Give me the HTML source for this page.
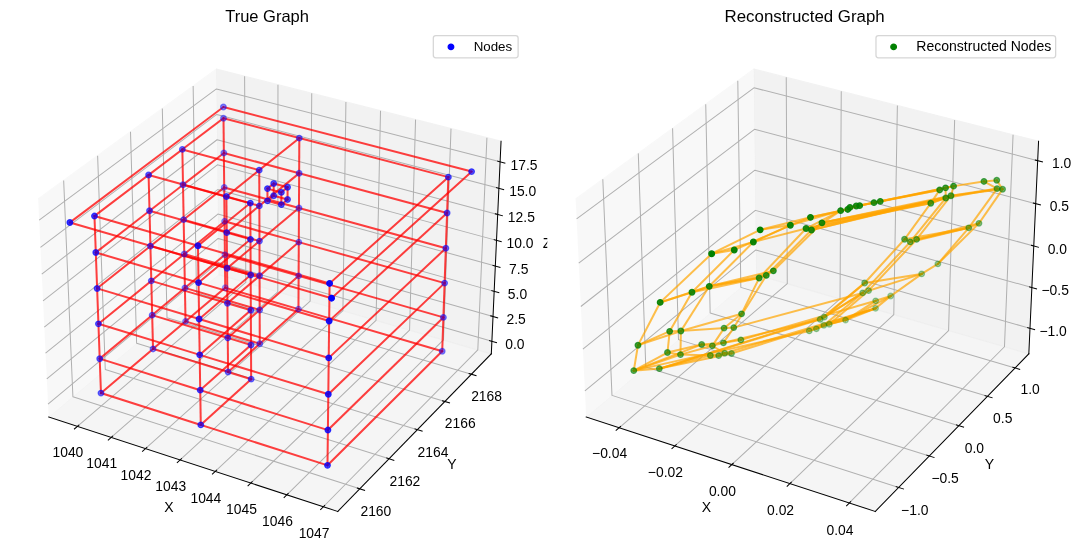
<!DOCTYPE html>
<html><head><meta charset="utf-8"><title>Graph</title>
<style>html,body{margin:0;padding:0;background:#fff;overflow:hidden}body{width:1080px;height:553px;font-family:"Liberation Sans",sans-serif}svg{display:block;will-change:transform;opacity:.9999}svg text{font-family:"Liberation Sans",sans-serif;fill:#000}</style></head>
<body>
<svg width="1080" height="553" viewBox="-0.5556 -0.9112 857.1402 438.8876" preserveAspectRatio="none">
 
 <defs>
  <style type="text/css">*{stroke-linejoin: round; stroke-linecap: butt}</style>
 </defs>
 <g id="figure_1">
  <g id="patch_1">
   <path d="M -0 437.976307 
L 857.140245 437.976307 
L 857.140245 0 
L -0 0 
z
" style="fill: #ffffff"/>
  </g>
  <g id="patch_2">
   <path d="M 7.2 430.776307 
L 415.658182 430.776307 
L 415.658182 22.318125 
L 7.2 22.318125 
z
" style="fill: #ffffff"/>
  </g>
  <g id="pane3d_1">
   <g id="patch_3">
    <path d="M 38.04141 330.063609 
L 172.927641 216.999295 
L 171.052593 53.940343 
L 29.71136 157.084737 
" style="fill: #f2f2f2; opacity: 0.5; stroke: #f2f2f2; stroke-linejoin: miter"/>
   </g>
  </g>
  <g id="pane3d_2">
   <g id="patch_4">
    <path d="M 172.927641 216.999295 
L 389.371914 279.911101 
L 397.096047 111.23577 
L 171.052593 53.940343 
" style="fill: #e6e6e6; opacity: 0.5; stroke: #e6e6e6; stroke-linejoin: miter"/>
   </g>
  </g>
  <g id="pane3d_3">
   <g id="patch_5">
    <path d="M 38.04141 330.063609 
L 267.482911 404.999203 
L 389.371914 279.911101 
L 172.927641 216.999295 
" style="fill: #ececec; opacity: 0.5; stroke: #ececec; stroke-linejoin: miter"/>
   </g>
  </g>
  <g id="grid3d_1">
   <g id="Line3DCollection_1">
    <path d="M 60.852418 337.513685 
L 194.532181 223.278882 
L 193.572442 59.648468 
" style="fill: none; stroke: #b0b0b0; stroke-width: 0.8"/>
    <path d="M 87.687652 346.278072 
L 219.923796 230.659222 
L 220.051934 66.360248 
" style="fill: none; stroke: #b0b0b0; stroke-width: 0.8"/>
    <path d="M 114.863145 355.153588 
L 245.610621 238.125368 
L 246.852626 73.153442 
" style="fill: none; stroke: #b0b0b0; stroke-width: 0.8"/>
    <path d="M 142.385409 364.142359 
L 271.597836 245.678826 
L 273.980398 80.029541 
" style="fill: none; stroke: #b0b0b0; stroke-width: 0.8"/>
    <path d="M 170.261126 373.246568 
L 297.89074 253.321135 
L 301.441273 86.990073 
" style="fill: none; stroke: #b0b0b0; stroke-width: 0.8"/>
    <path d="M 198.497147 382.468453 
L 324.49476 261.053873 
L 329.241425 94.036601 
" style="fill: none; stroke: #b0b0b0; stroke-width: 0.8"/>
    <path d="M 227.100504 391.810309 
L 351.41545 268.878655 
L 357.38718 101.170729 
" style="fill: none; stroke: #b0b0b0; stroke-width: 0.8"/>
    <path d="M 256.078412 401.274494 
L 378.658497 276.797133 
L 385.885025 108.394102 
" style="fill: none; stroke: #b0b0b0; stroke-width: 0.8"/>
   </g>
  </g>
  <g id="grid3d_2">
   <g id="Line3DCollection_2">
    <path d="M 49.967774 142.302529 
L 57.309921 313.912361 
L 284.960764 387.062626 
" style="fill: none; stroke: #b0b0b0; stroke-width: 0.8"/>
    <path d="M 76.926636 122.629179 
L 82.986512 292.389733 
L 308.216893 363.196117 
" style="fill: none; stroke: #b0b0b0; stroke-width: 0.8"/>
    <path d="M 103.012941 103.592582 
L 107.867457 271.534032 
L 330.71509 340.107433 
" style="fill: none; stroke: #b0b0b0; stroke-width: 0.8"/>
    <path d="M 128.268375 85.162317 
L 131.989173 251.314731 
L 352.491812 317.759158 
" style="fill: none; stroke: #b0b0b0; stroke-width: 0.8"/>
    <path d="M 152.732013 67.309868 
L 155.385889 231.70314 
L 373.581217 296.116241 
" style="fill: none; stroke: #b0b0b0; stroke-width: 0.8"/>
   </g>
  </g>
  <g id="grid3d_3">
   <g id="Line3DCollection_3">
    <path d="M 389.826908 269.975202 
L 172.816971 207.375132 
L 37.551502 319.890364 
" style="fill: none; stroke: #b0b0b0; stroke-width: 0.8"/>
    <path d="M 390.729617 250.262334 
L 172.597482 188.287838 
L 36.579236 299.700623 
" style="fill: none; stroke: #b0b0b0; stroke-width: 0.8"/>
    <path d="M 391.641804 230.342518 
L 172.375799 169.009735 
L 35.596373 279.290847 
" style="fill: none; stroke: #b0b0b0; stroke-width: 0.8"/>
    <path d="M 392.563617 210.212478 
L 172.151889 149.537947 
L 34.602741 258.657421 
" style="fill: none; stroke: #b0b0b0; stroke-width: 0.8"/>
    <path d="M 393.49521 189.868868 
L 171.925718 129.86954 
L 33.59816 237.796647 
" style="fill: none; stroke: #b0b0b0; stroke-width: 0.8"/>
    <path d="M 394.436739 169.308271 
L 171.697252 110.001521 
L 32.582449 216.704747 
" style="fill: none; stroke: #b0b0b0; stroke-width: 0.8"/>
    <path d="M 395.388365 148.527198 
L 171.466455 89.930837 
L 31.555421 195.377859 
" style="fill: none; stroke: #b0b0b0; stroke-width: 0.8"/>
    <path d="M 396.35025 127.522083 
L 171.233292 69.654369 
L 30.516888 173.812034 
" style="fill: none; stroke: #b0b0b0; stroke-width: 0.8"/>
   </g>
  </g>
  <g id="axis3d_1">
   <g id="line2d_1">
    <path d="M 38.04141 330.063609 
L 267.482911 404.999203 
" style="fill: none; stroke: #000000; stroke-width: 0.8; stroke-linecap: square"/>
   </g>
   <g id="xtick_1">
    <g id="line2d_2">
     <path d="M 62.016692 336.518765 
L 58.518863 339.507802 
" style="fill: none; stroke: #000000; stroke-width: 0.8; stroke-linecap: square"/>
    </g>
    <g id="text_1">
     <text x="53.339" y="361.795" font-size="11.00" text-anchor="middle">1040</text>
    </g>
   </g>
   <g id="xtick_2">
    <g id="line2d_3">
     <path d="M 88.839943 345.270582 
L 85.378082 348.297412 
" style="fill: none; stroke: #000000; stroke-width: 0.8; stroke-linecap: square"/>
    </g>
    <g id="text_2">
     <text x="80.192" y="370.680" font-size="11.00" text-anchor="middle">1041</text>
    </g>
   </g>
   <g id="xtick_3">
    <g id="line2d_4">
     <path d="M 116.003056 354.133287 
L 112.578359 357.198632 
" style="fill: none; stroke: #000000; stroke-width: 0.8; stroke-linecap: square"/>
    </g>
    <g id="text_3">
     <text x="107.387" y="379.678" font-size="11.00" text-anchor="middle">1042</text>
    </g>
   </g>
   <g id="xtick_4">
    <g id="line2d_5">
     <path d="M 143.512529 363.109002 
L 140.126231 366.213602 
" style="fill: none; stroke: #000000; stroke-width: 0.8; stroke-linecap: square"/>
    </g>
    <g id="text_4">
     <text x="134.929" y="388.791" font-size="11.00" text-anchor="middle">1043</text>
    </g>
   </g>
   <g id="xtick_5">
    <g id="line2d_6">
     <path d="M 171.375031 372.199903 
L 168.028403 375.344516 
" style="fill: none; stroke: #000000; stroke-width: 0.8; stroke-linecap: square"/>
    </g>
    <g id="text_5">
     <text x="162.826" y="398.022" font-size="11.00" text-anchor="middle">1044</text>
    </g>
   </g>
   <g id="xtick_6">
    <g id="line2d_7">
     <path d="M 199.597401 381.40822 
L 196.291756 384.593625 
" style="fill: none; stroke: #000000; stroke-width: 0.8; stroke-linecap: square"/>
    </g>
    <g id="text_6">
     <text x="191.085" y="407.372" font-size="11.00" text-anchor="middle">1045</text>
    </g>
   </g>
   <g id="xtick_7">
    <g id="line2d_8">
     <path d="M 228.186656 390.736244 
L 224.923348 393.963239 
" style="fill: none; stroke: #000000; stroke-width: 0.8; stroke-linecap: square"/>
    </g>
    <g id="text_7">
     <text x="219.712" y="416.844" font-size="11.00" text-anchor="middle">1046</text>
    </g>
   </g>
   <g id="xtick_8">
    <g id="line2d_9">
     <path d="M 257.149997 400.186323 
L 253.930423 403.455729 
" style="fill: none; stroke: #000000; stroke-width: 0.8; stroke-linecap: square"/>
    </g>
    <g id="text_8">
     <text x="248.715" y="426.440" font-size="11.00" text-anchor="middle">1047</text>
    </g>
   </g>
   <g id="text_9">
    <text x="133.493" y="405.426" font-size="11.15" text-anchor="middle">X</text>
   </g>
  </g>
  <g id="axis3d_2">
   <g id="line2d_10">
    <path d="M 389.371914 279.911101 
L 267.482911 404.999203 
" style="fill: none; stroke: #000000; stroke-width: 0.8; stroke-linecap: square"/>
   </g>
   <g id="xtick_9">
    <g id="line2d_11">
     <path d="M 283.042965 386.446387 
L 288.801289 388.296689 
" style="fill: none; stroke: #000000; stroke-width: 0.8; stroke-linecap: square"/>
    </g>
    <g id="text_10">
     <text x="297.760" y="408.944" font-size="11.00" text-anchor="middle">2160</text>
    </g>
   </g>
   <g id="xtick_10">
    <g id="line2d_12">
     <path d="M 306.321068 362.60012 
L 312.013335 364.389616 
" style="fill: none; stroke: #000000; stroke-width: 0.8; stroke-linecap: square"/>
    </g>
    <g id="text_11">
     <text x="320.813" y="384.848" font-size="11.00" text-anchor="middle">2162</text>
    </g>
   </g>
   <g id="xtick_11">
    <g id="line2d_13">
     <path d="M 328.840835 339.530698 
L 334.468258 341.262336 
" style="fill: none; stroke: #000000; stroke-width: 0.8; stroke-linecap: square"/>
    </g>
    <g id="text_12">
     <text x="343.114" y="361.537" font-size="11.00" text-anchor="middle">2164</text>
    </g>
   </g>
   <g id="xtick_12">
    <g id="line2d_14">
     <path d="M 350.638731 317.200766 
L 356.202507 318.877308 
" style="fill: none; stroke: #000000; stroke-width: 0.8; stroke-linecap: square"/>
    </g>
    <g id="text_13">
     <text x="364.700" y="338.974" font-size="11.00" text-anchor="middle">2166</text>
    </g>
   </g>
   <g id="xtick_13">
    <g id="line2d_15">
     <path d="M 371.748916 295.57533 
L 377.250229 297.199364 
" style="fill: none; stroke: #000000; stroke-width: 0.8; stroke-linecap: square"/>
    </g>
    <g id="text_14">
     <text x="385.604" y="317.123" font-size="11.00" text-anchor="middle">2168</text>
    </g>
   </g>
   <g id="text_15">
    <text x="358.115" y="371.365" font-size="11.15" text-anchor="middle">Y</text>
   </g>
  </g>
  <g id="axis3d_3">
   <g id="line2d_16">
    <path d="M 389.371914 279.911101 
L 397.096047 111.23577 
" style="fill: none; stroke: #000000; stroke-width: 0.8; stroke-linecap: square"/>
   </g>
   <g id="xtick_14">
    <g id="line2d_17">
     <path d="M 388.005372 269.44975 
L 393.474324 271.027358 
" style="fill: none; stroke: #000000; stroke-width: 0.8; stroke-linecap: square"/>
    </g>
    <g id="text_16">
     <text x="408.142" y="275.931" font-size="11.00" text-anchor="middle">0.0</text>
    </g>
   </g>
   <g id="xtick_15">
    <g id="line2d_18">
     <path d="M 388.898214 249.742005 
L 394.396815 251.304238 
" style="fill: none; stroke: #000000; stroke-width: 0.8; stroke-linecap: square"/>
    </g>
    <g id="text_17">
     <text x="409.138" y="256.243" font-size="11.00" text-anchor="middle">2.5</text>
    </g>
   </g>
   <g id="xtick_16">
    <g id="line2d_19">
     <path d="M 389.800425 229.82745 
L 395.328999 231.373895 
" style="fill: none; stroke: #000000; stroke-width: 0.8; stroke-linecap: square"/>
    </g>
    <g id="text_18">
     <text x="410.145" y="236.350" font-size="11.00" text-anchor="middle">5.0</text>
    </g>
   </g>
   <g id="xtick_17">
    <g id="line2d_20">
     <path d="M 390.712153 209.70281 
L 396.271028 211.233047 
" style="fill: none; stroke: #000000; stroke-width: 0.8; stroke-linecap: square"/>
    </g>
    <g id="text_19">
     <text x="411.162" y="216.246" font-size="11.00" text-anchor="middle">7.5</text>
    </g>
   </g>
   <g id="xtick_18">
    <g id="line2d_21">
     <path d="M 391.633551 189.364745 
L 397.22306 190.878341 
" style="fill: none; stroke: #000000; stroke-width: 0.8; stroke-linecap: square"/>
    </g>
    <g id="text_20">
     <text x="412.191" y="195.930" font-size="11.00" text-anchor="middle">10.0</text>
    </g>
   </g>
   <g id="xtick_19">
    <g id="line2d_22">
     <path d="M 392.564773 168.809841 
L 398.185255 170.306354 
" style="fill: none; stroke: #000000; stroke-width: 0.8; stroke-linecap: square"/>
    </g>
    <g id="text_21">
     <text x="413.230" y="175.398" font-size="11.00" text-anchor="middle">12.5</text>
    </g>
   </g>
   <g id="xtick_20">
    <g id="line2d_23">
     <path d="M 393.505976 148.034611 
L 399.157776 149.513586 
" style="fill: none; stroke: #000000; stroke-width: 0.8; stroke-linecap: square"/>
    </g>
    <g id="text_22">
     <text x="414.280" y="154.645" font-size="11.00" text-anchor="middle">15.0</text>
    </g>
   </g>
   <g id="xtick_21">
    <g id="line2d_24">
     <path d="M 394.457322 127.035494 
L 400.140791 128.496465 
" style="fill: none; stroke: #000000; stroke-width: 0.8; stroke-linecap: square"/>
    </g>
    <g id="text_23">
     <text x="415.342" y="133.670" font-size="11.00" text-anchor="middle">17.5</text>
    </g>
   </g>
   <g id="text_24">
    <text x="433.619" y="195.711" font-size="11.15" text-anchor="middle">Z</text>
   </g>
  </g>
  <g id="axes_1">
   <g id="line2d_25">
    <path d="M 79.583066 311.057111 
L 158.791552 336.323541 
" clip-path="url(#pc23e75e563)" style="fill: none; stroke: #ff0000; stroke-opacity: 0.75; stroke-width: 1.6; stroke-linecap: square"/>
   </g>
   <g id="line2d_26">
    <path d="M 158.791552 336.323541 
L 259.356796 368.402486 
" clip-path="url(#pc23e75e563)" style="fill: none; stroke: #ff0000; stroke-opacity: 0.75; stroke-width: 1.6; stroke-linecap: square"/>
   </g>
   <g id="line2d_27">
    <path d="M 259.356796 368.402486 
L 350.399946 277.831718 
" clip-path="url(#pc23e75e563)" style="fill: none; stroke: #ff0000; stroke-opacity: 0.75; stroke-width: 1.6; stroke-linecap: square"/>
   </g>
   <g id="line2d_28">
    <path d="M 350.399946 277.831718 
L 236.310104 244.438368 
" clip-path="url(#pc23e75e563)" style="fill: none; stroke: #ff0000; stroke-opacity: 0.75; stroke-width: 1.6; stroke-linecap: square"/>
   </g>
   <g id="line2d_29">
    <path d="M 236.310104 244.438368 
L 178.195973 227.428743 
" clip-path="url(#pc23e75e563)" style="fill: none; stroke: #ff0000; stroke-opacity: 0.75; stroke-width: 1.6; stroke-linecap: square"/>
   </g>
   <g id="line2d_30">
    <path d="M 178.195973 227.428743 
L 146.695836 254.142336 
" clip-path="url(#pc23e75e563)" style="fill: none; stroke: #ff0000; stroke-opacity: 0.75; stroke-width: 1.6; stroke-linecap: square"/>
   </g>
   <g id="line2d_31">
    <path d="M 146.695836 254.142336 
L 120.903281 276.015632 
" clip-path="url(#pc23e75e563)" style="fill: none; stroke: #ff0000; stroke-opacity: 0.75; stroke-width: 1.6; stroke-linecap: square"/>
   </g>
   <g id="line2d_32">
    <path d="M 120.903281 276.015632 
L 79.583066 311.057111 
" clip-path="url(#pc23e75e563)" style="fill: none; stroke: #ff0000; stroke-opacity: 0.75; stroke-width: 1.6; stroke-linecap: square"/>
   </g>
   <g id="line2d_33">
    <path d="M 120.903281 276.015632 
L 180.461863 294.349143 
" clip-path="url(#pc23e75e563)" style="fill: none; stroke: #ff0000; stroke-opacity: 0.75; stroke-width: 1.6; stroke-linecap: square"/>
   </g>
   <g id="line2d_34">
    <path d="M 180.461863 294.349143 
L 198.786323 299.989836 
" clip-path="url(#pc23e75e563)" style="fill: none; stroke: #ff0000; stroke-opacity: 0.75; stroke-width: 1.6; stroke-linecap: square"/>
   </g>
   <g id="line2d_35">
    <path d="M 146.695836 254.142336 
L 205.611104 271.873626 
" clip-path="url(#pc23e75e563)" style="fill: none; stroke: #ff0000; stroke-opacity: 0.75; stroke-width: 1.6; stroke-linecap: square"/>
   </g>
   <g id="line2d_36">
    <path d="M 180.461863 294.349143 
L 205.611104 271.873626 
" clip-path="url(#pc23e75e563)" style="fill: none; stroke: #ff0000; stroke-opacity: 0.75; stroke-width: 1.6; stroke-linecap: square"/>
   </g>
   <g id="line2d_37">
    <path d="M 205.611104 271.873626 
L 236.310104 244.438368 
" clip-path="url(#pc23e75e563)" style="fill: none; stroke: #ff0000; stroke-opacity: 0.75; stroke-width: 1.6; stroke-linecap: square"/>
   </g>
   <g id="line2d_38">
    <path d="M 198.786323 299.989836 
L 158.791552 336.323541 
" clip-path="url(#pc23e75e563)" style="fill: none; stroke: #ff0000; stroke-opacity: 0.75; stroke-width: 1.6; stroke-linecap: square"/>
   </g>
   <g id="line2d_39">
    <path d="M 78.579657 283.780552 
L 158.35881 308.726242 
" clip-path="url(#pc23e75e563)" style="fill: none; stroke: #ff0000; stroke-opacity: 0.75; stroke-width: 1.6; stroke-linecap: square"/>
   </g>
   <g id="line2d_40">
    <path d="M 158.35881 308.726242 
L 259.679688 340.407692 
" clip-path="url(#pc23e75e563)" style="fill: none; stroke: #ff0000; stroke-opacity: 0.75; stroke-width: 1.6; stroke-linecap: square"/>
   </g>
   <g id="line2d_41">
    <path d="M 259.679688 340.407692 
L 351.350859 250.9872 
" clip-path="url(#pc23e75e563)" style="fill: none; stroke: #ff0000; stroke-opacity: 0.75; stroke-width: 1.6; stroke-linecap: square"/>
   </g>
   <g id="line2d_42">
    <path d="M 351.350859 250.9872 
L 236.44458 218.039824 
" clip-path="url(#pc23e75e563)" style="fill: none; stroke: #ff0000; stroke-opacity: 0.75; stroke-width: 1.6; stroke-linecap: square"/>
   </g>
   <g id="line2d_43">
    <path d="M 236.44458 218.039824 
L 177.930362 201.26189 
" clip-path="url(#pc23e75e563)" style="fill: none; stroke: #ff0000; stroke-opacity: 0.75; stroke-width: 1.6; stroke-linecap: square"/>
   </g>
   <g id="line2d_44">
    <path d="M 177.930362 201.26189 
L 146.204213 227.61298 
" clip-path="url(#pc23e75e563)" style="fill: none; stroke: #ff0000; stroke-opacity: 0.75; stroke-width: 1.6; stroke-linecap: square"/>
   </g>
   <g id="line2d_45">
    <path d="M 146.204213 227.61298 
L 120.219844 249.195065 
" clip-path="url(#pc23e75e563)" style="fill: none; stroke: #ff0000; stroke-opacity: 0.75; stroke-width: 1.6; stroke-linecap: square"/>
   </g>
   <g id="line2d_46">
    <path d="M 120.219844 249.195065 
L 78.579657 283.780552 
" clip-path="url(#pc23e75e563)" style="fill: none; stroke: #ff0000; stroke-opacity: 0.75; stroke-width: 1.6; stroke-linecap: square"/>
   </g>
   <g id="line2d_47">
    <path d="M 120.219844 249.195065 
L 180.198625 267.288385 
" clip-path="url(#pc23e75e563)" style="fill: none; stroke: #ff0000; stroke-opacity: 0.75; stroke-width: 1.6; stroke-linecap: square"/>
   </g>
   <g id="line2d_48">
    <path d="M 180.198625 267.288385 
L 198.654736 272.855893 
" clip-path="url(#pc23e75e563)" style="fill: none; stroke: #ff0000; stroke-opacity: 0.75; stroke-width: 1.6; stroke-linecap: square"/>
   </g>
   <g id="line2d_49">
    <path d="M 146.204213 227.61298 
L 205.530681 245.107816 
" clip-path="url(#pc23e75e563)" style="fill: none; stroke: #ff0000; stroke-opacity: 0.75; stroke-width: 1.6; stroke-linecap: square"/>
   </g>
   <g id="line2d_50">
    <path d="M 180.198625 267.288385 
L 205.530681 245.107816 
" clip-path="url(#pc23e75e563)" style="fill: none; stroke: #ff0000; stroke-opacity: 0.75; stroke-width: 1.6; stroke-linecap: square"/>
   </g>
   <g id="line2d_51">
    <path d="M 205.530681 245.107816 
L 236.44458 218.039824 
" clip-path="url(#pc23e75e563)" style="fill: none; stroke: #ff0000; stroke-opacity: 0.75; stroke-width: 1.6; stroke-linecap: square"/>
   </g>
   <g id="line2d_52">
    <path d="M 198.654736 272.855893 
L 158.35881 308.726242 
" clip-path="url(#pc23e75e563)" style="fill: none; stroke: #ff0000; stroke-opacity: 0.75; stroke-width: 1.6; stroke-linecap: square"/>
   </g>
   <g id="line2d_53">
    <path d="M 77.561481 256.10257 
L 157.919579 280.715168 
" clip-path="url(#pc23e75e563)" style="fill: none; stroke: #ff0000; stroke-opacity: 0.75; stroke-width: 1.6; stroke-linecap: square"/>
   </g>
   <g id="line2d_54">
    <path d="M 157.919579 280.715168 
L 260.007534 311.983327 
" clip-path="url(#pc23e75e563)" style="fill: none; stroke: #ff0000; stroke-opacity: 0.75; stroke-width: 1.6; stroke-linecap: square"/>
   </g>
   <g id="line2d_55">
    <path d="M 260.007534 311.983327 
L 352.315421 223.757373 
" clip-path="url(#pc23e75e563)" style="fill: none; stroke: #ff0000; stroke-opacity: 0.75; stroke-width: 1.6; stroke-linecap: square"/>
   </g>
   <g id="line2d_56">
    <path d="M 352.315421 223.757373 
L 236.580937 191.272006 
" clip-path="url(#pc23e75e563)" style="fill: none; stroke: #ff0000; stroke-opacity: 0.75; stroke-width: 1.6; stroke-linecap: square"/>
   </g>
   <g id="line2d_57">
    <path d="M 236.580937 191.272006 
L 177.661085 174.733867 
" clip-path="url(#pc23e75e563)" style="fill: none; stroke: #ff0000; stroke-opacity: 0.75; stroke-width: 1.6; stroke-linecap: square"/>
   </g>
   <g id="line2d_58">
    <path d="M 177.661085 174.733867 
L 145.705661 200.709708 
" clip-path="url(#pc23e75e563)" style="fill: none; stroke: #ff0000; stroke-opacity: 0.75; stroke-width: 1.6; stroke-linecap: square"/>
   </g>
   <g id="line2d_59">
    <path d="M 145.705661 200.709708 
L 119.52661 221.990066 
" clip-path="url(#pc23e75e563)" style="fill: none; stroke: #ff0000; stroke-opacity: 0.75; stroke-width: 1.6; stroke-linecap: square"/>
   </g>
   <g id="line2d_60">
    <path d="M 119.52661 221.990066 
L 77.561481 256.10257 
" clip-path="url(#pc23e75e563)" style="fill: none; stroke: #ff0000; stroke-opacity: 0.75; stroke-width: 1.6; stroke-linecap: square"/>
   </g>
   <g id="line2d_61">
    <path d="M 119.52661 221.990066 
L 179.931561 239.834327 
" clip-path="url(#pc23e75e563)" style="fill: none; stroke: #ff0000; stroke-opacity: 0.75; stroke-width: 1.6; stroke-linecap: square"/>
   </g>
   <g id="line2d_62">
    <path d="M 179.931561 239.834327 
L 198.521228 245.325911 
" clip-path="url(#pc23e75e563)" style="fill: none; stroke: #ff0000; stroke-opacity: 0.75; stroke-width: 1.6; stroke-linecap: square"/>
   </g>
   <g id="line2d_63">
    <path d="M 145.705661 200.709708 
L 205.449109 217.95957 
" clip-path="url(#pc23e75e563)" style="fill: none; stroke: #ff0000; stroke-opacity: 0.75; stroke-width: 1.6; stroke-linecap: square"/>
   </g>
   <g id="line2d_64">
    <path d="M 179.931561 239.834327 
L 205.449109 217.95957 
" clip-path="url(#pc23e75e563)" style="fill: none; stroke: #ff0000; stroke-opacity: 0.75; stroke-width: 1.6; stroke-linecap: square"/>
   </g>
   <g id="line2d_65">
    <path d="M 205.449109 217.95957 
L 236.580937 191.272006 
" clip-path="url(#pc23e75e563)" style="fill: none; stroke: #ff0000; stroke-opacity: 0.75; stroke-width: 1.6; stroke-linecap: square"/>
   </g>
   <g id="line2d_66">
    <path d="M 198.521228 245.325911 
L 157.919579 280.715168 
" clip-path="url(#pc23e75e563)" style="fill: none; stroke: #ff0000; stroke-opacity: 0.75; stroke-width: 1.6; stroke-linecap: square"/>
   </g>
   <g id="line2d_67">
    <path d="M 76.528209 228.014236 
L 157.473714 252.280941 
" clip-path="url(#pc23e75e563)" style="fill: none; stroke: #ff0000; stroke-opacity: 0.75; stroke-width: 1.6; stroke-linecap: square"/>
   </g>
   <g id="line2d_68">
    <path d="M 157.473714 252.280941 
L 260.340449 283.119427 
" clip-path="url(#pc23e75e563)" style="fill: none; stroke: #ff0000; stroke-opacity: 0.75; stroke-width: 1.6; stroke-linecap: square"/>
   </g>
   <g id="line2d_69">
    <path d="M 260.340449 283.119427 
L 353.293928 196.13388 
" clip-path="url(#pc23e75e563)" style="fill: none; stroke: #ff0000; stroke-opacity: 0.75; stroke-width: 1.6; stroke-linecap: square"/>
   </g>
   <g id="line2d_70">
    <path d="M 353.293928 196.13388 
L 236.719215 164.127113 
" clip-path="url(#pc23e75e563)" style="fill: none; stroke: #ff0000; stroke-opacity: 0.75; stroke-width: 1.6; stroke-linecap: square"/>
   </g>
   <g id="line2d_71">
    <path d="M 236.719215 164.127113 
L 177.388066 147.837145 
" clip-path="url(#pc23e75e563)" style="fill: none; stroke: #ff0000; stroke-opacity: 0.75; stroke-width: 1.6; stroke-linecap: square"/>
   </g>
   <g id="line2d_72">
    <path d="M 177.388066 147.837145 
L 145.200033 173.424558 
" clip-path="url(#pc23e75e563)" style="fill: none; stroke: #ff0000; stroke-opacity: 0.75; stroke-width: 1.6; stroke-linecap: square"/>
   </g>
   <g id="line2d_73">
    <path d="M 145.200033 173.424558 
L 118.823369 194.392308 
" clip-path="url(#pc23e75e563)" style="fill: none; stroke: #ff0000; stroke-opacity: 0.75; stroke-width: 1.6; stroke-linecap: square"/>
   </g>
   <g id="line2d_74">
    <path d="M 118.823369 194.392308 
L 76.528209 228.014236 
" clip-path="url(#pc23e75e563)" style="fill: none; stroke: #ff0000; stroke-opacity: 0.75; stroke-width: 1.6; stroke-linecap: square"/>
   </g>
   <g id="line2d_75">
    <path d="M 118.823369 194.392308 
L 179.660588 211.978329 
" clip-path="url(#pc23e75e563)" style="fill: none; stroke: #ff0000; stroke-opacity: 0.75; stroke-width: 1.6; stroke-linecap: square"/>
   </g>
   <g id="line2d_76">
    <path d="M 179.660588 211.978329 
L 198.385758 217.391155 
" clip-path="url(#pc23e75e563)" style="fill: none; stroke: #ff0000; stroke-opacity: 0.75; stroke-width: 1.6; stroke-linecap: square"/>
   </g>
   <g id="line2d_77">
    <path d="M 145.200033 173.424558 
L 205.366362 190.420632 
" clip-path="url(#pc23e75e563)" style="fill: none; stroke: #ff0000; stroke-opacity: 0.75; stroke-width: 1.6; stroke-linecap: square"/>
   </g>
   <g id="line2d_78">
    <path d="M 179.660588 211.978329 
L 205.366362 190.420632 
" clip-path="url(#pc23e75e563)" style="fill: none; stroke: #ff0000; stroke-opacity: 0.75; stroke-width: 1.6; stroke-linecap: square"/>
   </g>
   <g id="line2d_79">
    <path d="M 205.366362 190.420632 
L 236.719215 164.127113 
" clip-path="url(#pc23e75e563)" style="fill: none; stroke: #ff0000; stroke-opacity: 0.75; stroke-width: 1.6; stroke-linecap: square"/>
   </g>
   <g id="line2d_80">
    <path d="M 198.385758 217.391155 
L 157.473714 252.280941 
" clip-path="url(#pc23e75e563)" style="fill: none; stroke: #ff0000; stroke-opacity: 0.75; stroke-width: 1.6; stroke-linecap: square"/>
   </g>
   <g id="line2d_81">
    <path d="M 75.479504 199.506357 
L 157.021062 223.413901 
" clip-path="url(#pc23e75e563)" style="fill: none; stroke: #ff0000; stroke-opacity: 0.75; stroke-width: 1.6; stroke-linecap: square"/>
   </g>
   <g id="line2d_82">
    <path d="M 157.021062 223.413901 
L 260.678553 253.805717 
" clip-path="url(#pc23e75e563)" style="fill: none; stroke: #ff0000; stroke-opacity: 0.75; stroke-width: 1.6; stroke-linecap: square"/>
   </g>
   <g id="line2d_83">
    <path d="M 260.678553 253.805717 
L 354.286684 168.108123 
" clip-path="url(#pc23e75e563)" style="fill: none; stroke: #ff0000; stroke-opacity: 0.75; stroke-width: 1.6; stroke-linecap: square"/>
   </g>
   <g id="line2d_84">
    <path d="M 354.286684 168.108123 
L 236.859455 136.59712 
" clip-path="url(#pc23e75e563)" style="fill: none; stroke: #ff0000; stroke-opacity: 0.75; stroke-width: 1.6; stroke-linecap: square"/>
   </g>
   <g id="line2d_85">
    <path d="M 236.859455 136.59712 
L 177.111225 120.563984 
" clip-path="url(#pc23e75e563)" style="fill: none; stroke: #ff0000; stroke-opacity: 0.75; stroke-width: 1.6; stroke-linecap: square"/>
   </g>
   <g id="line2d_86">
    <path d="M 177.111225 120.563984 
L 144.687176 145.749343 
" clip-path="url(#pc23e75e563)" style="fill: none; stroke: #ff0000; stroke-opacity: 0.75; stroke-width: 1.6; stroke-linecap: square"/>
   </g>
   <g id="line2d_87">
    <path d="M 144.687176 145.749343 
L 118.109901 166.393224 
" clip-path="url(#pc23e75e563)" style="fill: none; stroke: #ff0000; stroke-opacity: 0.75; stroke-width: 1.6; stroke-linecap: square"/>
   </g>
   <g id="line2d_88">
    <path d="M 118.109901 166.393224 
L 75.479504 199.506357 
" clip-path="url(#pc23e75e563)" style="fill: none; stroke: #ff0000; stroke-opacity: 0.75; stroke-width: 1.6; stroke-linecap: square"/>
   </g>
   <g id="line2d_89">
    <path d="M 118.109901 166.393224 
L 179.385617 183.711501 
" clip-path="url(#pc23e75e563)" style="fill: none; stroke: #ff0000; stroke-opacity: 0.75; stroke-width: 1.6; stroke-linecap: square"/>
   </g>
   <g id="line2d_90">
    <path d="M 179.385617 183.711501 
L 198.248281 189.042631 
" clip-path="url(#pc23e75e563)" style="fill: none; stroke: #ff0000; stroke-opacity: 0.75; stroke-width: 1.6; stroke-linecap: square"/>
   </g>
   <g id="line2d_91">
    <path d="M 144.687176 145.749343 
L 205.282417 162.482508 
" clip-path="url(#pc23e75e563)" style="fill: none; stroke: #ff0000; stroke-opacity: 0.75; stroke-width: 1.6; stroke-linecap: square"/>
   </g>
   <g id="line2d_92">
    <path d="M 179.385617 183.711501 
L 205.282417 162.482508 
" clip-path="url(#pc23e75e563)" style="fill: none; stroke: #ff0000; stroke-opacity: 0.75; stroke-width: 1.6; stroke-linecap: square"/>
   </g>
   <g id="line2d_93">
    <path d="M 205.282417 162.482508 
L 236.859455 136.59712 
" clip-path="url(#pc23e75e563)" style="fill: none; stroke: #ff0000; stroke-opacity: 0.75; stroke-width: 1.6; stroke-linecap: square"/>
   </g>
   <g id="line2d_94">
    <path d="M 198.248281 189.042631 
L 157.021062 223.413901 
" clip-path="url(#pc23e75e563)" style="fill: none; stroke: #ff0000; stroke-opacity: 0.75; stroke-width: 1.6; stroke-linecap: square"/>
   </g>
   <g id="line2d_95">
    <path d="M 74.415017 170.569462 
L 156.561466 194.104089 
" clip-path="url(#pc23e75e563)" style="fill: none; stroke: #ff0000; stroke-opacity: 0.75; stroke-width: 1.6; stroke-linecap: square"/>
   </g>
   <g id="line2d_96">
    <path d="M 156.561466 194.104089 
L 261.021967 224.031601 
" clip-path="url(#pc23e75e563)" style="fill: none; stroke: #ff0000; stroke-opacity: 0.75; stroke-width: 1.6; stroke-linecap: square"/>
   </g>
   <g id="line2d_97">
    <path d="M 261.021967 224.031601 
L 355.294003 139.67125 
" clip-path="url(#pc23e75e563)" style="fill: none; stroke: #ff0000; stroke-opacity: 0.75; stroke-width: 1.6; stroke-linecap: square"/>
   </g>
   <g id="line2d_98">
    <path d="M 355.294003 139.67125 
L 237.001699 108.673773 
" clip-path="url(#pc23e75e563)" style="fill: none; stroke: #ff0000; stroke-opacity: 0.75; stroke-width: 1.6; stroke-linecap: square"/>
   </g>
   <g id="line2d_99">
    <path d="M 237.001699 108.673773 
L 176.830483 92.906425 
" clip-path="url(#pc23e75e563)" style="fill: none; stroke: #ff0000; stroke-opacity: 0.75; stroke-width: 1.6; stroke-linecap: square"/>
   </g>
   <g id="line2d_100">
    <path d="M 176.830483 92.906425 
L 144.166934 117.675637 
" clip-path="url(#pc23e75e563)" style="fill: none; stroke: #ff0000; stroke-opacity: 0.75; stroke-width: 1.6; stroke-linecap: square"/>
   </g>
   <g id="line2d_101">
    <path d="M 144.166934 117.675637 
L 117.385982 137.983997 
" clip-path="url(#pc23e75e563)" style="fill: none; stroke: #ff0000; stroke-opacity: 0.75; stroke-width: 1.6; stroke-linecap: square"/>
   </g>
   <g id="line2d_102">
    <path d="M 117.385982 137.983997 
L 74.415017 170.569462 
" clip-path="url(#pc23e75e563)" style="fill: none; stroke: #ff0000; stroke-opacity: 0.75; stroke-width: 1.6; stroke-linecap: square"/>
   </g>
   <g id="line2d_103">
    <path d="M 117.385982 137.983997 
L 179.106562 155.024686 
" clip-path="url(#pc23e75e563)" style="fill: none; stroke: #ff0000; stroke-opacity: 0.75; stroke-width: 1.6; stroke-linecap: square"/>
   </g>
   <g id="line2d_104">
    <path d="M 179.106562 155.024686 
L 198.108752 160.271079 
" clip-path="url(#pc23e75e563)" style="fill: none; stroke: #ff0000; stroke-opacity: 0.75; stroke-width: 1.6; stroke-linecap: square"/>
   </g>
   <g id="line2d_105">
    <path d="M 144.166934 117.675637 
L 205.197245 134.136455 
" clip-path="url(#pc23e75e563)" style="fill: none; stroke: #ff0000; stroke-opacity: 0.75; stroke-width: 1.6; stroke-linecap: square"/>
   </g>
   <g id="line2d_106">
    <path d="M 179.106562 155.024686 
L 205.197245 134.136455 
" clip-path="url(#pc23e75e563)" style="fill: none; stroke: #ff0000; stroke-opacity: 0.75; stroke-width: 1.6; stroke-linecap: square"/>
   </g>
   <g id="line2d_107">
    <path d="M 205.197245 134.136455 
L 237.001699 108.673773 
" clip-path="url(#pc23e75e563)" style="fill: none; stroke: #ff0000; stroke-opacity: 0.75; stroke-width: 1.6; stroke-linecap: square"/>
   </g>
   <g id="line2d_108">
    <path d="M 198.108752 160.271079 
L 156.561466 194.104089 
" clip-path="url(#pc23e75e563)" style="fill: none; stroke: #ff0000; stroke-opacity: 0.75; stroke-width: 1.6; stroke-linecap: square"/>
   </g>
   <g id="line2d_109">
    <path d="M 79.583066 311.057111 
L 78.579657 283.780552 
" clip-path="url(#pc23e75e563)" style="fill: none; stroke: #ff0000; stroke-opacity: 0.75; stroke-width: 1.6; stroke-linecap: square"/>
   </g>
   <g id="line2d_110">
    <path d="M 78.579657 283.780552 
L 77.561481 256.10257 
" clip-path="url(#pc23e75e563)" style="fill: none; stroke: #ff0000; stroke-opacity: 0.75; stroke-width: 1.6; stroke-linecap: square"/>
   </g>
   <g id="line2d_111">
    <path d="M 77.561481 256.10257 
L 76.528209 228.014236 
" clip-path="url(#pc23e75e563)" style="fill: none; stroke: #ff0000; stroke-opacity: 0.75; stroke-width: 1.6; stroke-linecap: square"/>
   </g>
   <g id="line2d_112">
    <path d="M 76.528209 228.014236 
L 75.479504 199.506357 
" clip-path="url(#pc23e75e563)" style="fill: none; stroke: #ff0000; stroke-opacity: 0.75; stroke-width: 1.6; stroke-linecap: square"/>
   </g>
   <g id="line2d_113">
    <path d="M 75.479504 199.506357 
L 74.415017 170.569462 
" clip-path="url(#pc23e75e563)" style="fill: none; stroke: #ff0000; stroke-opacity: 0.75; stroke-width: 1.6; stroke-linecap: square"/>
   </g>
   <g id="line2d_114">
    <path d="M 158.791552 336.323541 
L 158.35881 308.726242 
" clip-path="url(#pc23e75e563)" style="fill: none; stroke: #ff0000; stroke-opacity: 0.75; stroke-width: 1.6; stroke-linecap: square"/>
   </g>
   <g id="line2d_115">
    <path d="M 158.35881 308.726242 
L 157.919579 280.715168 
" clip-path="url(#pc23e75e563)" style="fill: none; stroke: #ff0000; stroke-opacity: 0.75; stroke-width: 1.6; stroke-linecap: square"/>
   </g>
   <g id="line2d_116">
    <path d="M 157.919579 280.715168 
L 157.473714 252.280941 
" clip-path="url(#pc23e75e563)" style="fill: none; stroke: #ff0000; stroke-opacity: 0.75; stroke-width: 1.6; stroke-linecap: square"/>
   </g>
   <g id="line2d_117">
    <path d="M 157.473714 252.280941 
L 157.021062 223.413901 
" clip-path="url(#pc23e75e563)" style="fill: none; stroke: #ff0000; stroke-opacity: 0.75; stroke-width: 1.6; stroke-linecap: square"/>
   </g>
   <g id="line2d_118">
    <path d="M 157.021062 223.413901 
L 156.561466 194.104089 
" clip-path="url(#pc23e75e563)" style="fill: none; stroke: #ff0000; stroke-opacity: 0.75; stroke-width: 1.6; stroke-linecap: square"/>
   </g>
   <g id="line2d_119">
    <path d="M 259.356796 368.402486 
L 259.679688 340.407692 
" clip-path="url(#pc23e75e563)" style="fill: none; stroke: #ff0000; stroke-opacity: 0.75; stroke-width: 1.6; stroke-linecap: square"/>
   </g>
   <g id="line2d_120">
    <path d="M 259.679688 340.407692 
L 260.007534 311.983327 
" clip-path="url(#pc23e75e563)" style="fill: none; stroke: #ff0000; stroke-opacity: 0.75; stroke-width: 1.6; stroke-linecap: square"/>
   </g>
   <g id="line2d_121">
    <path d="M 260.007534 311.983327 
L 260.340449 283.119427 
" clip-path="url(#pc23e75e563)" style="fill: none; stroke: #ff0000; stroke-opacity: 0.75; stroke-width: 1.6; stroke-linecap: square"/>
   </g>
   <g id="line2d_122">
    <path d="M 260.340449 283.119427 
L 260.678553 253.805717 
" clip-path="url(#pc23e75e563)" style="fill: none; stroke: #ff0000; stroke-opacity: 0.75; stroke-width: 1.6; stroke-linecap: square"/>
   </g>
   <g id="line2d_123">
    <path d="M 260.678553 253.805717 
L 261.021967 224.031601 
" clip-path="url(#pc23e75e563)" style="fill: none; stroke: #ff0000; stroke-opacity: 0.75; stroke-width: 1.6; stroke-linecap: square"/>
   </g>
   <g id="line2d_124">
    <path d="M 350.399946 277.831718 
L 351.350859 250.9872 
" clip-path="url(#pc23e75e563)" style="fill: none; stroke: #ff0000; stroke-opacity: 0.75; stroke-width: 1.6; stroke-linecap: square"/>
   </g>
   <g id="line2d_125">
    <path d="M 351.350859 250.9872 
L 352.315421 223.757373 
" clip-path="url(#pc23e75e563)" style="fill: none; stroke: #ff0000; stroke-opacity: 0.75; stroke-width: 1.6; stroke-linecap: square"/>
   </g>
   <g id="line2d_126">
    <path d="M 352.315421 223.757373 
L 353.293928 196.13388 
" clip-path="url(#pc23e75e563)" style="fill: none; stroke: #ff0000; stroke-opacity: 0.75; stroke-width: 1.6; stroke-linecap: square"/>
   </g>
   <g id="line2d_127">
    <path d="M 353.293928 196.13388 
L 354.286684 168.108123 
" clip-path="url(#pc23e75e563)" style="fill: none; stroke: #ff0000; stroke-opacity: 0.75; stroke-width: 1.6; stroke-linecap: square"/>
   </g>
   <g id="line2d_128">
    <path d="M 354.286684 168.108123 
L 355.294003 139.67125 
" clip-path="url(#pc23e75e563)" style="fill: none; stroke: #ff0000; stroke-opacity: 0.75; stroke-width: 1.6; stroke-linecap: square"/>
   </g>
   <g id="line2d_129">
    <path d="M 180.461863 294.349143 
L 180.198625 267.288385 
" clip-path="url(#pc23e75e563)" style="fill: none; stroke: #ff0000; stroke-opacity: 0.75; stroke-width: 1.6; stroke-linecap: square"/>
   </g>
   <g id="line2d_130">
    <path d="M 180.198625 267.288385 
L 179.931561 239.834327 
" clip-path="url(#pc23e75e563)" style="fill: none; stroke: #ff0000; stroke-opacity: 0.75; stroke-width: 1.6; stroke-linecap: square"/>
   </g>
   <g id="line2d_131">
    <path d="M 179.931561 239.834327 
L 179.660588 211.978329 
" clip-path="url(#pc23e75e563)" style="fill: none; stroke: #ff0000; stroke-opacity: 0.75; stroke-width: 1.6; stroke-linecap: square"/>
   </g>
   <g id="line2d_132">
    <path d="M 179.660588 211.978329 
L 179.385617 183.711501 
" clip-path="url(#pc23e75e563)" style="fill: none; stroke: #ff0000; stroke-opacity: 0.75; stroke-width: 1.6; stroke-linecap: square"/>
   </g>
   <g id="line2d_133">
    <path d="M 179.385617 183.711501 
L 179.106562 155.024686 
" clip-path="url(#pc23e75e563)" style="fill: none; stroke: #ff0000; stroke-opacity: 0.75; stroke-width: 1.6; stroke-linecap: square"/>
   </g>
   <g id="line2d_134">
    <path d="M 198.786323 299.989836 
L 198.654736 272.855893 
" clip-path="url(#pc23e75e563)" style="fill: none; stroke: #ff0000; stroke-opacity: 0.75; stroke-width: 1.6; stroke-linecap: square"/>
   </g>
   <g id="line2d_135">
    <path d="M 198.654736 272.855893 
L 198.521228 245.325911 
" clip-path="url(#pc23e75e563)" style="fill: none; stroke: #ff0000; stroke-opacity: 0.75; stroke-width: 1.6; stroke-linecap: square"/>
   </g>
   <g id="line2d_136">
    <path d="M 198.521228 245.325911 
L 198.385758 217.391155 
" clip-path="url(#pc23e75e563)" style="fill: none; stroke: #ff0000; stroke-opacity: 0.75; stroke-width: 1.6; stroke-linecap: square"/>
   </g>
   <g id="line2d_137">
    <path d="M 198.385758 217.391155 
L 198.248281 189.042631 
" clip-path="url(#pc23e75e563)" style="fill: none; stroke: #ff0000; stroke-opacity: 0.75; stroke-width: 1.6; stroke-linecap: square"/>
   </g>
   <g id="line2d_138">
    <path d="M 198.248281 189.042631 
L 198.108752 160.271079 
" clip-path="url(#pc23e75e563)" style="fill: none; stroke: #ff0000; stroke-opacity: 0.75; stroke-width: 1.6; stroke-linecap: square"/>
   </g>
   <g id="line2d_139">
    <path d="M 205.611104 271.873626 
L 205.530681 245.107816 
" clip-path="url(#pc23e75e563)" style="fill: none; stroke: #ff0000; stroke-opacity: 0.75; stroke-width: 1.6; stroke-linecap: square"/>
   </g>
   <g id="line2d_140">
    <path d="M 205.530681 245.107816 
L 205.449109 217.95957 
" clip-path="url(#pc23e75e563)" style="fill: none; stroke: #ff0000; stroke-opacity: 0.75; stroke-width: 1.6; stroke-linecap: square"/>
   </g>
   <g id="line2d_141">
    <path d="M 205.449109 217.95957 
L 205.366362 190.420632 
" clip-path="url(#pc23e75e563)" style="fill: none; stroke: #ff0000; stroke-opacity: 0.75; stroke-width: 1.6; stroke-linecap: square"/>
   </g>
   <g id="line2d_142">
    <path d="M 205.366362 190.420632 
L 205.282417 162.482508 
" clip-path="url(#pc23e75e563)" style="fill: none; stroke: #ff0000; stroke-opacity: 0.75; stroke-width: 1.6; stroke-linecap: square"/>
   </g>
   <g id="line2d_143">
    <path d="M 205.282417 162.482508 
L 205.197245 134.136455 
" clip-path="url(#pc23e75e563)" style="fill: none; stroke: #ff0000; stroke-opacity: 0.75; stroke-width: 1.6; stroke-linecap: square"/>
   </g>
   <g id="line2d_144">
    <path d="M 236.310104 244.438368 
L 236.44458 218.039824 
" clip-path="url(#pc23e75e563)" style="fill: none; stroke: #ff0000; stroke-opacity: 0.75; stroke-width: 1.6; stroke-linecap: square"/>
   </g>
   <g id="line2d_145">
    <path d="M 236.44458 218.039824 
L 236.580937 191.272006 
" clip-path="url(#pc23e75e563)" style="fill: none; stroke: #ff0000; stroke-opacity: 0.75; stroke-width: 1.6; stroke-linecap: square"/>
   </g>
   <g id="line2d_146">
    <path d="M 236.580937 191.272006 
L 236.719215 164.127113 
" clip-path="url(#pc23e75e563)" style="fill: none; stroke: #ff0000; stroke-opacity: 0.75; stroke-width: 1.6; stroke-linecap: square"/>
   </g>
   <g id="line2d_147">
    <path d="M 236.719215 164.127113 
L 236.859455 136.59712 
" clip-path="url(#pc23e75e563)" style="fill: none; stroke: #ff0000; stroke-opacity: 0.75; stroke-width: 1.6; stroke-linecap: square"/>
   </g>
   <g id="line2d_148">
    <path d="M 236.859455 136.59712 
L 237.001699 108.673773 
" clip-path="url(#pc23e75e563)" style="fill: none; stroke: #ff0000; stroke-opacity: 0.75; stroke-width: 1.6; stroke-linecap: square"/>
   </g>
   <g id="line2d_149">
    <path d="M 146.695836 254.142336 
L 146.204213 227.61298 
" clip-path="url(#pc23e75e563)" style="fill: none; stroke: #ff0000; stroke-opacity: 0.75; stroke-width: 1.6; stroke-linecap: square"/>
   </g>
   <g id="line2d_150">
    <path d="M 146.204213 227.61298 
L 145.705661 200.709708 
" clip-path="url(#pc23e75e563)" style="fill: none; stroke: #ff0000; stroke-opacity: 0.75; stroke-width: 1.6; stroke-linecap: square"/>
   </g>
   <g id="line2d_151">
    <path d="M 145.705661 200.709708 
L 145.200033 173.424558 
" clip-path="url(#pc23e75e563)" style="fill: none; stroke: #ff0000; stroke-opacity: 0.75; stroke-width: 1.6; stroke-linecap: square"/>
   </g>
   <g id="line2d_152">
    <path d="M 145.200033 173.424558 
L 144.687176 145.749343 
" clip-path="url(#pc23e75e563)" style="fill: none; stroke: #ff0000; stroke-opacity: 0.75; stroke-width: 1.6; stroke-linecap: square"/>
   </g>
   <g id="line2d_153">
    <path d="M 144.687176 145.749343 
L 144.166934 117.675637 
" clip-path="url(#pc23e75e563)" style="fill: none; stroke: #ff0000; stroke-opacity: 0.75; stroke-width: 1.6; stroke-linecap: square"/>
   </g>
   <g id="line2d_154">
    <path d="M 120.903281 276.015632 
L 120.219844 249.195065 
" clip-path="url(#pc23e75e563)" style="fill: none; stroke: #ff0000; stroke-opacity: 0.75; stroke-width: 1.6; stroke-linecap: square"/>
   </g>
   <g id="line2d_155">
    <path d="M 120.219844 249.195065 
L 119.52661 221.990066 
" clip-path="url(#pc23e75e563)" style="fill: none; stroke: #ff0000; stroke-opacity: 0.75; stroke-width: 1.6; stroke-linecap: square"/>
   </g>
   <g id="line2d_156">
    <path d="M 119.52661 221.990066 
L 118.823369 194.392308 
" clip-path="url(#pc23e75e563)" style="fill: none; stroke: #ff0000; stroke-opacity: 0.75; stroke-width: 1.6; stroke-linecap: square"/>
   </g>
   <g id="line2d_157">
    <path d="M 118.823369 194.392308 
L 118.109901 166.393224 
" clip-path="url(#pc23e75e563)" style="fill: none; stroke: #ff0000; stroke-opacity: 0.75; stroke-width: 1.6; stroke-linecap: square"/>
   </g>
   <g id="line2d_158">
    <path d="M 118.109901 166.393224 
L 117.385982 137.983997 
" clip-path="url(#pc23e75e563)" style="fill: none; stroke: #ff0000; stroke-opacity: 0.75; stroke-width: 1.6; stroke-linecap: square"/>
   </g>
   <g id="line2d_159">
    <path d="M 178.195973 227.428743 
L 177.930362 201.26189 
" clip-path="url(#pc23e75e563)" style="fill: none; stroke: #ff0000; stroke-opacity: 0.75; stroke-width: 1.6; stroke-linecap: square"/>
   </g>
   <g id="line2d_160">
    <path d="M 177.930362 201.26189 
L 177.661085 174.733867 
" clip-path="url(#pc23e75e563)" style="fill: none; stroke: #ff0000; stroke-opacity: 0.75; stroke-width: 1.6; stroke-linecap: square"/>
   </g>
   <g id="line2d_161">
    <path d="M 177.661085 174.733867 
L 177.388066 147.837145 
" clip-path="url(#pc23e75e563)" style="fill: none; stroke: #ff0000; stroke-opacity: 0.75; stroke-width: 1.6; stroke-linecap: square"/>
   </g>
   <g id="line2d_162">
    <path d="M 177.388066 147.837145 
L 177.111225 120.563984 
" clip-path="url(#pc23e75e563)" style="fill: none; stroke: #ff0000; stroke-opacity: 0.75; stroke-width: 1.6; stroke-linecap: square"/>
   </g>
   <g id="line2d_163">
    <path d="M 177.111225 120.563984 
L 176.830483 92.906425 
" clip-path="url(#pc23e75e563)" style="fill: none; stroke: #ff0000; stroke-opacity: 0.75; stroke-width: 1.6; stroke-linecap: square"/>
   </g>
   <g id="line2d_164">
    <path d="M 176.740495 84.041267 
L 54.898889 175.715591 
" clip-path="url(#pc23e75e563)" style="fill: none; stroke: #ff0000; stroke-opacity: 0.75; stroke-width: 1.6; stroke-linecap: square"/>
   </g>
   <g id="line2d_165">
    <path d="M 54.898889 175.715591 
L 262.592199 235.743155 
" clip-path="url(#pc23e75e563)" style="fill: none; stroke: #ff0000; stroke-opacity: 0.75; stroke-width: 1.6; stroke-linecap: square"/>
   </g>
   <g id="line2d_166">
    <path d="M 262.592199 235.743155 
L 373.734816 135.263866 
" clip-path="url(#pc23e75e563)" style="fill: none; stroke: #ff0000; stroke-opacity: 0.75; stroke-width: 1.6; stroke-linecap: square"/>
   </g>
   <g id="line2d_167">
    <path d="M 373.734816 135.263866 
L 176.740495 84.041267 
" clip-path="url(#pc23e75e563)" style="fill: none; stroke: #ff0000; stroke-opacity: 0.75; stroke-width: 1.6; stroke-linecap: square"/>
   </g>
   <g id="line2d_168">
    <path d="M 211.716942 158.495143 
L 222.736959 161.52388 
" clip-path="url(#pc23e75e563)" style="fill: none; stroke: #ff0000; stroke-opacity: 0.75; stroke-width: 1.6; stroke-linecap: square"/>
   </g>
   <g id="line2d_169">
    <path d="M 211.716942 158.495143 
L 216.664429 154.435111 
" clip-path="url(#pc23e75e563)" style="fill: none; stroke: #ff0000; stroke-opacity: 0.75; stroke-width: 1.6; stroke-linecap: square"/>
   </g>
   <g id="line2d_170">
    <path d="M 211.716942 158.495143 
L 211.703857 148.774266 
" clip-path="url(#pc23e75e563)" style="fill: none; stroke: #ff0000; stroke-opacity: 0.75; stroke-width: 1.6; stroke-linecap: square"/>
   </g>
   <g id="line2d_171">
    <path d="M 222.736959 161.52388 
L 227.659765 157.443569 
" clip-path="url(#pc23e75e563)" style="fill: none; stroke: #ff0000; stroke-opacity: 0.75; stroke-width: 1.6; stroke-linecap: square"/>
   </g>
   <g id="line2d_172">
    <path d="M 222.736959 161.52388 
L 222.751472 151.786248 
" clip-path="url(#pc23e75e563)" style="fill: none; stroke: #ff0000; stroke-opacity: 0.75; stroke-width: 1.6; stroke-linecap: square"/>
   </g>
   <g id="line2d_173">
    <path d="M 216.664429 154.435111 
L 227.659765 157.443569 
" clip-path="url(#pc23e75e563)" style="fill: none; stroke: #ff0000; stroke-opacity: 0.75; stroke-width: 1.6; stroke-linecap: square"/>
   </g>
   <g id="line2d_174">
    <path d="M 216.664429 154.435111 
L 216.66372 144.736754 
" clip-path="url(#pc23e75e563)" style="fill: none; stroke: #ff0000; stroke-opacity: 0.75; stroke-width: 1.6; stroke-linecap: square"/>
   </g>
   <g id="line2d_175">
    <path d="M 227.659765 157.443569 
L 227.68653 147.728518 
" clip-path="url(#pc23e75e563)" style="fill: none; stroke: #ff0000; stroke-opacity: 0.75; stroke-width: 1.6; stroke-linecap: square"/>
   </g>
   <g id="line2d_176">
    <path d="M 211.703857 148.774266 
L 222.751472 151.786248 
" clip-path="url(#pc23e75e563)" style="fill: none; stroke: #ff0000; stroke-opacity: 0.75; stroke-width: 1.6; stroke-linecap: square"/>
   </g>
   <g id="line2d_177">
    <path d="M 211.703857 148.774266 
L 216.66372 144.736754 
" clip-path="url(#pc23e75e563)" style="fill: none; stroke: #ff0000; stroke-opacity: 0.75; stroke-width: 1.6; stroke-linecap: square"/>
   </g>
   <g id="line2d_178">
    <path d="M 222.751472 151.786248 
L 227.68653 147.728518 
" clip-path="url(#pc23e75e563)" style="fill: none; stroke: #ff0000; stroke-opacity: 0.75; stroke-width: 1.6; stroke-linecap: square"/>
   </g>
   <g id="line2d_179">
    <path d="M 216.66372 144.736754 
L 227.68653 147.728518 
" clip-path="url(#pc23e75e563)" style="fill: none; stroke: #ff0000; stroke-opacity: 0.75; stroke-width: 1.6; stroke-linecap: square"/>
   </g>
   <g id="Path3DCollection_1">
    <defs>
     <path id="C0_0_d612678be2" d="M 0 2.236068 
C 0.593012 2.236068 1.161816 2.000462 1.581139 1.581139 
C 2.000462 1.161816 2.236068 0.593012 2.236068 -0 
C 2.236068 -0.593012 2.000462 -1.161816 1.581139 -1.581139 
C 1.161816 -2.000462 0.593012 -2.236068 0 -2.236068 
C -0.593012 -2.236068 -1.161816 -2.000462 -1.581139 -1.581139 
C -2.000462 -1.161816 -2.236068 -0.593012 -2.236068 0 
C -2.236068 0.593012 -2.000462 1.161816 -1.581139 1.581139 
C -1.161816 2.000462 -0.593012 2.236068 0 2.236068 
z
"/>
    </defs>
    <g clip-path="url(#pc23e75e563)">
     <use href="#C0_0_d612678be2" x="178.195973" y="227.428743" style="fill: #0000ff; fill-opacity: 0.3; stroke: #0000ff; stroke-opacity: 0.3"/>
    </g>
    <g clip-path="url(#pc23e75e563)">
     <use href="#C0_0_d612678be2" x="177.930362" y="201.26189" style="fill: #0000ff; fill-opacity: 0.327275; stroke: #0000ff; stroke-opacity: 0.327275"/>
    </g>
    <g clip-path="url(#pc23e75e563)">
     <use href="#C0_0_d612678be2" x="236.310104" y="244.438368" style="fill: #0000ff; fill-opacity: 0.352836; stroke: #0000ff; stroke-opacity: 0.352836"/>
    </g>
    <g clip-path="url(#pc23e75e563)">
     <use href="#C0_0_d612678be2" x="177.661085" y="174.733867" style="fill: #0000ff; fill-opacity: 0.354927; stroke: #0000ff; stroke-opacity: 0.354927"/>
    </g>
    <g clip-path="url(#pc23e75e563)">
     <use href="#C0_0_d612678be2" x="236.44458" y="218.039824" style="fill: #0000ff; fill-opacity: 0.380843; stroke: #0000ff; stroke-opacity: 0.380843"/>
    </g>
    <g clip-path="url(#pc23e75e563)">
     <use href="#C0_0_d612678be2" x="177.388066" y="147.837145" style="fill: #0000ff; fill-opacity: 0.382963; stroke: #0000ff; stroke-opacity: 0.382963"/>
    </g>
    <g clip-path="url(#pc23e75e563)">
     <use href="#C0_0_d612678be2" x="146.695836" y="254.142336" style="fill: #0000ff; fill-opacity: 0.382979; stroke: #0000ff; stroke-opacity: 0.382979"/>
    </g>
    <g clip-path="url(#pc23e75e563)">
     <use href="#C0_0_d612678be2" x="236.580937" y="191.272006" style="fill: #0000ff; fill-opacity: 0.409241; stroke: #0000ff; stroke-opacity: 0.409241"/>
    </g>
    <g clip-path="url(#pc23e75e563)">
     <use href="#C0_0_d612678be2" x="177.111225" y="120.563984" style="fill: #0000ff; fill-opacity: 0.411391; stroke: #0000ff; stroke-opacity: 0.411391"/>
    </g>
    <g clip-path="url(#pc23e75e563)">
     <use href="#C0_0_d612678be2" x="146.204213" y="227.61298" style="fill: #0000ff; fill-opacity: 0.411407; stroke: #0000ff; stroke-opacity: 0.411407"/>
    </g>
    <g clip-path="url(#pc23e75e563)">
     <use href="#C0_0_d612678be2" x="236.719215" y="164.127113" style="fill: #0000ff; fill-opacity: 0.43804; stroke: #0000ff; stroke-opacity: 0.43804"/>
    </g>
    <g clip-path="url(#pc23e75e563)">
     <use href="#C0_0_d612678be2" x="205.611104" y="271.873626" style="fill: #0000ff; fill-opacity: 0.438057; stroke: #0000ff; stroke-opacity: 0.438057"/>
    </g>
    <g clip-path="url(#pc23e75e563)">
     <use href="#C0_0_d612678be2" x="176.830483" y="92.906425" style="fill: #0000ff; fill-opacity: 0.44022; stroke: #0000ff; stroke-opacity: 0.44022"/>
    </g>
    <g clip-path="url(#pc23e75e563)">
     <use href="#C0_0_d612678be2" x="145.705661" y="200.709708" style="fill: #0000ff; fill-opacity: 0.440237; stroke: #0000ff; stroke-opacity: 0.440237"/>
    </g>
    <g clip-path="url(#pc23e75e563)">
     <use href="#C0_0_d612678be2" x="176.740495" y="84.041267" style="fill: #0000ff; fill-opacity: 0.449461; stroke: #0000ff; stroke-opacity: 0.449461"/>
    </g>
    <g clip-path="url(#pc23e75e563)">
     <use href="#C0_0_d612678be2" x="120.903281" y="276.015632" style="fill: #0000ff; fill-opacity: 0.450923; stroke: #0000ff; stroke-opacity: 0.450923"/>
    </g>
    <g clip-path="url(#pc23e75e563)">
     <use href="#C0_0_d612678be2" x="350.399946" y="277.831718" style="fill: #0000ff; fill-opacity: 0.456564; stroke: #0000ff; stroke-opacity: 0.456564"/>
    </g>
    <g clip-path="url(#pc23e75e563)">
     <use href="#C0_0_d612678be2" x="236.859455" y="136.59712" style="fill: #0000ff; fill-opacity: 0.467247; stroke: #0000ff; stroke-opacity: 0.467247"/>
    </g>
    <g clip-path="url(#pc23e75e563)">
     <use href="#C0_0_d612678be2" x="205.530681" y="245.107816" style="fill: #0000ff; fill-opacity: 0.467264; stroke: #0000ff; stroke-opacity: 0.467264"/>
    </g>
    <g clip-path="url(#pc23e75e563)">
     <use href="#C0_0_d612678be2" x="145.200033" y="173.424558" style="fill: #0000ff; fill-opacity: 0.469475; stroke: #0000ff; stroke-opacity: 0.469475"/>
    </g>
    <g clip-path="url(#pc23e75e563)">
     <use href="#C0_0_d612678be2" x="120.219844" y="249.195065" style="fill: #0000ff; fill-opacity: 0.480314; stroke: #0000ff; stroke-opacity: 0.480314"/>
    </g>
    <g clip-path="url(#pc23e75e563)">
     <use href="#C0_0_d612678be2" x="351.350859" y="250.9872" style="fill: #0000ff; fill-opacity: 0.486035; stroke: #0000ff; stroke-opacity: 0.486035"/>
    </g>
    <g clip-path="url(#pc23e75e563)">
     <use href="#C0_0_d612678be2" x="237.001699" y="108.673773" style="fill: #0000ff; fill-opacity: 0.496872; stroke: #0000ff; stroke-opacity: 0.496872"/>
    </g>
    <g clip-path="url(#pc23e75e563)">
     <use href="#C0_0_d612678be2" x="205.449109" y="217.95957" style="fill: #0000ff; fill-opacity: 0.496889; stroke: #0000ff; stroke-opacity: 0.496889"/>
    </g>
    <g clip-path="url(#pc23e75e563)">
     <use href="#C0_0_d612678be2" x="144.687176" y="145.749343" style="fill: #0000ff; fill-opacity: 0.499132; stroke: #0000ff; stroke-opacity: 0.499132"/>
    </g>
    <g clip-path="url(#pc23e75e563)">
     <use href="#C0_0_d612678be2" x="180.461863" y="294.349143" style="fill: #0000ff; fill-opacity: 0.507871; stroke: #0000ff; stroke-opacity: 0.507871"/>
    </g>
    <g clip-path="url(#pc23e75e563)">
     <use href="#C0_0_d612678be2" x="119.52661" y="221.990066" style="fill: #0000ff; fill-opacity: 0.510126; stroke: #0000ff; stroke-opacity: 0.510126"/>
    </g>
    <g clip-path="url(#pc23e75e563)">
     <use href="#C0_0_d612678be2" x="352.315421" y="223.757373" style="fill: #0000ff; fill-opacity: 0.51593; stroke: #0000ff; stroke-opacity: 0.51593"/>
    </g>
    <g clip-path="url(#pc23e75e563)">
     <use href="#C0_0_d612678be2" x="198.786323" y="299.989836" style="fill: #0000ff; fill-opacity: 0.525392; stroke: #0000ff; stroke-opacity: 0.525392"/>
    </g>
    <g clip-path="url(#pc23e75e563)">
     <use href="#C0_0_d612678be2" x="205.366362" y="190.420632" style="fill: #0000ff; fill-opacity: 0.52694; stroke: #0000ff; stroke-opacity: 0.52694"/>
    </g>
    <g clip-path="url(#pc23e75e563)">
     <use href="#C0_0_d612678be2" x="144.166934" y="117.675637" style="fill: #0000ff; fill-opacity: 0.529215; stroke: #0000ff; stroke-opacity: 0.529215"/>
    </g>
    <g clip-path="url(#pc23e75e563)">
     <use href="#C0_0_d612678be2" x="180.198625" y="267.288385" style="fill: #0000ff; fill-opacity: 0.538081; stroke: #0000ff; stroke-opacity: 0.538081"/>
    </g>
    <g clip-path="url(#pc23e75e563)">
     <use href="#C0_0_d612678be2" x="118.823369" y="194.392308" style="fill: #0000ff; fill-opacity: 0.540368; stroke: #0000ff; stroke-opacity: 0.540368"/>
    </g>
    <g clip-path="url(#pc23e75e563)">
     <use href="#C0_0_d612678be2" x="353.293928" y="196.13388" style="fill: #0000ff; fill-opacity: 0.546257; stroke: #0000ff; stroke-opacity: 0.546257"/>
    </g>
    <g clip-path="url(#pc23e75e563)">
     <use href="#C0_0_d612678be2" x="198.654736" y="272.855893" style="fill: #0000ff; fill-opacity: 0.555856; stroke: #0000ff; stroke-opacity: 0.555856"/>
    </g>
    <g clip-path="url(#pc23e75e563)">
     <use href="#C0_0_d612678be2" x="205.282417" y="162.482508" style="fill: #0000ff; fill-opacity: 0.557427; stroke: #0000ff; stroke-opacity: 0.557427"/>
    </g>
    <g clip-path="url(#pc23e75e563)">
     <use href="#C0_0_d612678be2" x="79.583066" y="311.057111" style="fill: #0000ff; fill-opacity: 0.55977; stroke: #0000ff; stroke-opacity: 0.55977"/>
    </g>
    <g clip-path="url(#pc23e75e563)">
     <use href="#C0_0_d612678be2" x="179.931561" y="239.834327" style="fill: #0000ff; fill-opacity: 0.56873; stroke: #0000ff; stroke-opacity: 0.56873"/>
    </g>
    <g clip-path="url(#pc23e75e563)">
     <use href="#C0_0_d612678be2" x="118.109901" y="166.393224" style="fill: #0000ff; fill-opacity: 0.571051; stroke: #0000ff; stroke-opacity: 0.571051"/>
    </g>
    <g clip-path="url(#pc23e75e563)">
     <use href="#C0_0_d612678be2" x="354.286684" y="168.108123" style="fill: #0000ff; fill-opacity: 0.577025; stroke: #0000ff; stroke-opacity: 0.577025"/>
    </g>
    <g clip-path="url(#pc23e75e563)">
     <use href="#C0_0_d612678be2" x="198.521228" y="245.325911" style="fill: #0000ff; fill-opacity: 0.586765; stroke: #0000ff; stroke-opacity: 0.586765"/>
    </g>
    <g clip-path="url(#pc23e75e563)">
     <use href="#C0_0_d612678be2" x="205.197245" y="134.136455" style="fill: #0000ff; fill-opacity: 0.588359; stroke: #0000ff; stroke-opacity: 0.588359"/>
    </g>
    <g clip-path="url(#pc23e75e563)">
     <use href="#C0_0_d612678be2" x="78.579657" y="283.780552" style="fill: #0000ff; fill-opacity: 0.590736; stroke: #0000ff; stroke-opacity: 0.590736"/>
    </g>
    <g clip-path="url(#pc23e75e563)">
     <use href="#C0_0_d612678be2" x="179.660588" y="211.978329" style="fill: #0000ff; fill-opacity: 0.599828; stroke: #0000ff; stroke-opacity: 0.599828"/>
    </g>
    <g clip-path="url(#pc23e75e563)">
     <use href="#C0_0_d612678be2" x="117.385982" y="137.983997" style="fill: #0000ff; fill-opacity: 0.602183; stroke: #0000ff; stroke-opacity: 0.602183"/>
    </g>
    <g clip-path="url(#pc23e75e563)">
     <use href="#C0_0_d612678be2" x="355.294003" y="139.67125" style="fill: #0000ff; fill-opacity: 0.608245; stroke: #0000ff; stroke-opacity: 0.608245"/>
    </g>
    <g clip-path="url(#pc23e75e563)">
     <use href="#C0_0_d612678be2" x="216.664429" y="154.435111" style="fill: #0000ff; fill-opacity: 0.617728; stroke: #0000ff; stroke-opacity: 0.617728"/>
    </g>
    <g clip-path="url(#pc23e75e563)">
     <use href="#C0_0_d612678be2" x="198.385758" y="217.391155" style="fill: #0000ff; fill-opacity: 0.618129; stroke: #0000ff; stroke-opacity: 0.618129"/>
    </g>
    <g clip-path="url(#pc23e75e563)">
     <use href="#C0_0_d612678be2" x="77.561481" y="256.10257" style="fill: #0000ff; fill-opacity: 0.622158; stroke: #0000ff; stroke-opacity: 0.622158"/>
    </g>
    <g clip-path="url(#pc23e75e563)">
     <use href="#C0_0_d612678be2" x="227.659765" y="157.443569" style="fill: #0000ff; fill-opacity: 0.628428; stroke: #0000ff; stroke-opacity: 0.628428"/>
    </g>
    <g clip-path="url(#pc23e75e563)">
     <use href="#C0_0_d612678be2" x="216.66372" y="144.736754" style="fill: #0000ff; fill-opacity: 0.628439; stroke: #0000ff; stroke-opacity: 0.628439"/>
    </g>
    <g clip-path="url(#pc23e75e563)">
     <use href="#C0_0_d612678be2" x="179.385617" y="183.711501" style="fill: #0000ff; fill-opacity: 0.631384; stroke: #0000ff; stroke-opacity: 0.631384"/>
    </g>
    <g clip-path="url(#pc23e75e563)">
     <use href="#C0_0_d612678be2" x="211.716942" y="158.495143" style="fill: #0000ff; fill-opacity: 0.632169; stroke: #0000ff; stroke-opacity: 0.632169"/>
    </g>
    <g clip-path="url(#pc23e75e563)">
     <use href="#C0_0_d612678be2" x="373.734816" y="135.263866" style="fill: #0000ff; fill-opacity: 0.635352; stroke: #0000ff; stroke-opacity: 0.635352"/>
    </g>
    <g clip-path="url(#pc23e75e563)">
     <use href="#C0_0_d612678be2" x="158.791552" y="336.323541" style="fill: #0000ff; fill-opacity: 0.638253; stroke: #0000ff; stroke-opacity: 0.638253"/>
    </g>
    <g clip-path="url(#pc23e75e563)">
     <use href="#C0_0_d612678be2" x="227.68653" y="147.728518" style="fill: #0000ff; fill-opacity: 0.639193; stroke: #0000ff; stroke-opacity: 0.639193"/>
    </g>
    <g clip-path="url(#pc23e75e563)">
     <use href="#C0_0_d612678be2" x="222.736959" y="161.52388" style="fill: #0000ff; fill-opacity: 0.642942; stroke: #0000ff; stroke-opacity: 0.642942"/>
    </g>
    <g clip-path="url(#pc23e75e563)">
     <use href="#C0_0_d612678be2" x="211.703857" y="148.774266" style="fill: #0000ff; fill-opacity: 0.642953; stroke: #0000ff; stroke-opacity: 0.642953"/>
    </g>
    <g clip-path="url(#pc23e75e563)">
     <use href="#C0_0_d612678be2" x="198.248281" y="189.042631" style="fill: #0000ff; fill-opacity: 0.649957; stroke: #0000ff; stroke-opacity: 0.649957"/>
    </g>
    <g clip-path="url(#pc23e75e563)">
     <use href="#C0_0_d612678be2" x="222.751472" y="151.786248" style="fill: #0000ff; fill-opacity: 0.653779; stroke: #0000ff; stroke-opacity: 0.653779"/>
    </g>
    <g clip-path="url(#pc23e75e563)">
     <use href="#C0_0_d612678be2" x="76.528209" y="228.014236" style="fill: #0000ff; fill-opacity: 0.654046; stroke: #0000ff; stroke-opacity: 0.654046"/>
    </g>
    <g clip-path="url(#pc23e75e563)">
     <use href="#C0_0_d612678be2" x="179.106562" y="155.024686" style="fill: #0000ff; fill-opacity: 0.663409; stroke: #0000ff; stroke-opacity: 0.663409"/>
    </g>
    <g clip-path="url(#pc23e75e563)">
     <use href="#C0_0_d612678be2" x="158.35881" y="308.726242" style="fill: #0000ff; fill-opacity: 0.670381; stroke: #0000ff; stroke-opacity: 0.670381"/>
    </g>
    <g clip-path="url(#pc23e75e563)">
     <use href="#C0_0_d612678be2" x="198.108752" y="160.271079" style="fill: #0000ff; fill-opacity: 0.682259; stroke: #0000ff; stroke-opacity: 0.682259"/>
    </g>
    <g clip-path="url(#pc23e75e563)">
     <use href="#C0_0_d612678be2" x="75.479504" y="199.506357" style="fill: #0000ff; fill-opacity: 0.68641; stroke: #0000ff; stroke-opacity: 0.68641"/>
    </g>
    <g clip-path="url(#pc23e75e563)">
     <use href="#C0_0_d612678be2" x="157.919579" y="280.715168" style="fill: #0000ff; fill-opacity: 0.702991; stroke: #0000ff; stroke-opacity: 0.702991"/>
    </g>
    <g clip-path="url(#pc23e75e563)">
     <use href="#C0_0_d612678be2" x="74.415017" y="170.569462" style="fill: #0000ff; fill-opacity: 0.719261; stroke: #0000ff; stroke-opacity: 0.719261"/>
    </g>
    <g clip-path="url(#pc23e75e563)">
     <use href="#C0_0_d612678be2" x="157.473714" y="252.280941" style="fill: #0000ff; fill-opacity: 0.736093; stroke: #0000ff; stroke-opacity: 0.736093"/>
    </g>
    <g clip-path="url(#pc23e75e563)">
     <use href="#C0_0_d612678be2" x="259.356796" y="368.402486" style="fill: #0000ff; fill-opacity: 0.737898; stroke: #0000ff; stroke-opacity: 0.737898"/>
    </g>
    <g clip-path="url(#pc23e75e563)">
     <use href="#C0_0_d612678be2" x="157.021062" y="223.413901" style="fill: #0000ff; fill-opacity: 0.769699; stroke: #0000ff; stroke-opacity: 0.769699"/>
    </g>
    <g clip-path="url(#pc23e75e563)">
     <use href="#C0_0_d612678be2" x="259.679688" y="340.407692" style="fill: #0000ff; fill-opacity: 0.771532; stroke: #0000ff; stroke-opacity: 0.771532"/>
    </g>
    <g clip-path="url(#pc23e75e563)">
     <use href="#C0_0_d612678be2" x="54.898889" y="175.715591" style="fill: #0000ff; fill-opacity: 0.782155; stroke: #0000ff; stroke-opacity: 0.782155"/>
    </g>
    <g clip-path="url(#pc23e75e563)">
     <use href="#C0_0_d612678be2" x="156.561466" y="194.104089" style="fill: #0000ff; fill-opacity: 0.80382; stroke: #0000ff; stroke-opacity: 0.80382"/>
    </g>
    <g clip-path="url(#pc23e75e563)">
     <use href="#C0_0_d612678be2" x="260.007534" y="311.983327" style="fill: #0000ff; fill-opacity: 0.805682; stroke: #0000ff; stroke-opacity: 0.805682"/>
    </g>
    <g clip-path="url(#pc23e75e563)">
     <use href="#C0_0_d612678be2" x="260.340449" y="283.119427" style="fill: #0000ff; fill-opacity: 0.840359; stroke: #0000ff; stroke-opacity: 0.840359"/>
    </g>
    <g clip-path="url(#pc23e75e563)">
     <use href="#C0_0_d612678be2" x="260.678553" y="253.805717" style="fill: #0000ff; fill-opacity: 0.875577; stroke: #0000ff; stroke-opacity: 0.875577"/>
    </g>
    <g clip-path="url(#pc23e75e563)">
     <use href="#C0_0_d612678be2" x="261.021967" y="224.031601" style="fill: #0000ff; fill-opacity: 0.911349; stroke: #0000ff; stroke-opacity: 0.911349"/>
    </g>
    <g clip-path="url(#pc23e75e563)">
     <use href="#C0_0_d612678be2" x="262.592199" y="235.743155" style="fill: #0000ff; stroke: #0000ff"/>
    </g>
   </g>
   <g id="text_25">
    <text x="211.429" y="16.794" font-size="13.11" text-anchor="middle">True Graph</text>
   </g>
   <g id="legend_1">
    <g id="patch_6">
     <path d="M 345.347244 44.99625 
L 408.658182 44.99625 
Q 410.658182 44.99625 410.658182 42.99625 
L 410.658182 29.318125 
Q 410.658182 27.318125 408.658182 27.318125 
L 345.347244 27.318125 
Q 343.347244 27.318125 343.347244 29.318125 
L 343.347244 42.99625 
Q 343.347244 44.99625 345.347244 44.99625 
z
" style="fill: #ffffff; opacity: 0.8; stroke: #cccccc; stroke-linejoin: miter"/>
    </g>
    <g id="Path3DCollection_2">
     <defs>
      <path id="me2b4c653d4" d="M 0 2.236068 
C 0.593012 2.236068 1.161816 2.000462 1.581139 1.581139 
C 2.000462 1.161816 2.236068 0.593012 2.236068 0 
C 2.236068 -0.593012 2.000462 -1.161816 1.581139 -1.581139 
C 1.161816 -2.000462 0.593012 -2.236068 0 -2.236068 
C -0.593012 -2.236068 -1.161816 -2.000462 -1.581139 -1.581139 
C -2.000462 -1.161816 -2.236068 -0.593012 -2.236068 0 
C -2.236068 0.593012 -2.000462 1.161816 -1.581139 1.581139 
C -1.161816 2.000462 -0.593012 2.236068 0 2.236068 
z
" style="stroke: #0000ff"/>
     </defs>
     <g>
      <use href="#me2b4c653d4" x="357.347244" y="36.291563" style="fill: #0000ff; stroke: #0000ff"/>
     </g>
    </g>
    <g id="text_26">
     <text x="375.347" y="39.869" font-size="10.59" text-anchor="start">Nodes</text>
    </g>
   </g>
  </g>
  <g id="patch_7">
   <path d="M 433.8 430.776307 
L 842.258182 430.776307 
L 842.258182 22.318125 
L 433.8 22.318125 
z
" style="fill: #ffffff"/>
  </g>
  <g id="pane3d_4">
   <g id="patch_8">
    <path d="M 464.64141 330.063609 
L 599.527641 216.999295 
L 597.652593 53.940343 
L 456.31136 157.084737 
" style="fill: #f2f2f2; opacity: 0.5; stroke: #f2f2f2; stroke-linejoin: miter"/>
   </g>
  </g>
  <g id="pane3d_5">
   <g id="patch_9">
    <path d="M 599.527641 216.999295 
L 815.971914 279.911101 
L 823.696047 111.23577 
L 597.652593 53.940343 
" style="fill: #e6e6e6; opacity: 0.5; stroke: #e6e6e6; stroke-linejoin: miter"/>
   </g>
  </g>
  <g id="pane3d_6">
   <g id="patch_10">
    <path d="M 464.64141 330.063609 
L 694.082911 404.999203 
L 815.971914 279.911101 
L 599.527641 216.999295 
" style="fill: #ececec; opacity: 0.5; stroke: #ececec; stroke-linejoin: miter"/>
   </g>
  </g>
  <g id="grid3d_4">
   <g id="Line3DCollection_4">
    <path d="M 490.764273 338.595336 
L 624.267293 224.190136 
L 623.441165 60.476995 
" style="fill: none; stroke: #b0b0b0; stroke-width: 0.8"/>
    <path d="M 535.025649 353.051102 
L 666.1282 236.357449 
L 667.105239 71.544564 
" style="fill: none; stroke: #b0b0b0; stroke-width: 0.8"/>
    <path d="M 580.215777 367.810197 
L 708.793924 248.75869 
L 711.645486 82.834219 
" style="fill: none; stroke: #b0b0b0; stroke-width: 0.8"/>
    <path d="M 626.364198 382.882272 
L 752.2879 261.400672 
L 757.088547 94.35271 
" style="fill: none; stroke: #b0b0b0; stroke-width: 0.8"/>
    <path d="M 673.501721 398.277386 
L 796.634481 274.290472 
L 803.462152 106.107067 
" style="fill: none; stroke: #b0b0b0; stroke-width: 0.8"/>
   </g>
  </g>
  <g id="grid3d_5">
   <g id="Line3DCollection_5">
    <path d="M 477.856041 141.362411 
L 485.136068 312.88458 
L 712.672215 385.922004 
" style="fill: none; stroke: #b0b0b0; stroke-width: 0.8"/>
    <path d="M 506.022041 120.808146 
L 511.965105 290.395949 
L 736.969283 360.987235 
" style="fill: none; stroke: #b0b0b0; stroke-width: 0.8"/>
    <path d="M 533.235547 100.948969 
L 537.925432 268.635488 
L 760.439009 336.901523 
" style="fill: none; stroke: #b0b0b0; stroke-width: 0.8"/>
    <path d="M 559.54407 81.750207 
L 563.05857 247.568394 
L 783.122944 313.622225 
" style="fill: none; stroke: #b0b0b0; stroke-width: 0.8"/>
    <path d="M 584.992016 63.179456 
L 587.403433 227.162047 
L 805.059902 291.10951 
" style="fill: none; stroke: #b0b0b0; stroke-width: 0.8"/>
   </g>
  </g>
  <g id="grid3d_6">
   <g id="Line3DCollection_6">
    <path d="M 816.897332 259.702345 
L 599.302576 197.427101 
L 463.644878 309.36999 
" style="fill: none; stroke: #b0b0b0; stroke-width: 0.8"/>
    <path d="M 818.382068 227.279503 
L 598.941721 166.046247 
L 462.045207 276.151772 
" style="fill: none; stroke: #b0b0b0; stroke-width: 0.8"/>
    <path d="M 819.892457 194.296457 
L 598.574932 134.149325 
L 460.416832 242.337514 
" style="fill: none; stroke: #b0b0b0; stroke-width: 0.8"/>
    <path d="M 821.429171 160.738561 
L 598.202061 101.723497 
L 458.758974 207.911028 
" style="fill: none; stroke: #b0b0b0; stroke-width: 0.8"/>
    <path d="M 822.992903 126.590657 
L 597.822956 68.755501 
L 457.070826 172.855536 
" style="fill: none; stroke: #b0b0b0; stroke-width: 0.8"/>
   </g>
  </g>
  <g id="axis3d_4">
   <g id="line2d_180">
    <path d="M 464.64141 330.063609 
L 694.082911 404.999203 
" style="fill: none; stroke: #000000; stroke-width: 0.8; stroke-linecap: square"/>
   </g>
   <g id="xtick_22">
    <g id="line2d_181">
     <path d="M 491.927081 337.598869 
L 488.433652 340.592558 
" style="fill: none; stroke: #000000; stroke-width: 0.8; stroke-linecap: square"/>
    </g>
    <g id="text_27">
     <text x="483.253" y="362.891" font-size="11.00" text-anchor="middle">−0.04</text>
    </g>
   </g>
   <g id="xtick_23">
    <g id="line2d_182">
     <path d="M 536.168515 352.033843 
L 532.734948 355.090043 
" style="fill: none; stroke: #000000; stroke-width: 0.8; stroke-linecap: square"/>
    </g>
    <g id="text_28">
     <text x="527.545" y="377.547" font-size="11.00" text-anchor="middle">−0.02</text>
    </g>
   </g>
   <g id="xtick_24">
    <g id="line2d_183">
     <path d="M 581.337604 366.771489 
L 577.967194 369.892178 
" style="fill: none; stroke: #000000; stroke-width: 0.8; stroke-linecap: square"/>
    </g>
    <g id="text_29">
     <text x="572.768" y="392.510" font-size="11.00" text-anchor="middle">0.00</text>
    </g>
   </g>
   <g id="xtick_25">
    <g id="line2d_184">
     <path d="M 627.463832 381.821428 
L 624.160046 385.008669 
" style="fill: none; stroke: #000000; stroke-width: 0.8; stroke-linecap: square"/>
    </g>
    <g id="text_30">
     <text x="618.953" y="407.791" font-size="11.00" text-anchor="middle">0.02</text>
    </g>
   </g>
   <g id="xtick_26">
    <g id="line2d_185">
     <path d="M 674.577949 397.193693 
L 671.344434 400.449638 
" style="fill: none; stroke: #000000; stroke-width: 0.8; stroke-linecap: square"/>
    </g>
    <g id="text_31">
     <text x="666.130" y="423.401" font-size="11.00" text-anchor="middle">0.04</text>
    </g>
   </g>
   <g id="text_32">
    <text x="560.093" y="405.426" font-size="11.15" text-anchor="middle">X</text>
   </g>
  </g>
  <g id="axis3d_5">
   <g id="line2d_186">
    <path d="M 815.971914 279.911101 
L 694.082911 404.999203 
" style="fill: none; stroke: #000000; stroke-width: 0.8; stroke-linecap: square"/>
   </g>
   <g id="xtick_27">
    <g id="line2d_187">
     <path d="M 710.75546 385.306739 
L 716.510649 387.154113 
" style="fill: none; stroke: #000000; stroke-width: 0.8; stroke-linecap: square"/>
    </g>
    <g id="text_33">
     <text x="725.461" y="407.793" font-size="11.00" text-anchor="middle">−1.0</text>
    </g>
   </g>
   <g id="xtick_28">
    <g id="line2d_188">
     <path d="M 735.075508 360.393095 
L 740.761611 362.177015 
" style="fill: none; stroke: #000000; stroke-width: 0.8; stroke-linecap: square"/>
    </g>
    <g id="text_34">
     <text x="749.546" y="382.618" font-size="11.00" text-anchor="middle">−0.5</text>
    </g>
   </g>
   <g id="xtick_29">
    <g id="line2d_189">
     <path d="M 758.567774 336.327437 
L 764.18612 338.051117 
" style="fill: none; stroke: #000000; stroke-width: 0.8; stroke-linecap: square"/>
    </g>
    <g id="text_35">
     <text x="772.811" y="358.300" font-size="11.00" text-anchor="middle">0.0</text>
    </g>
   </g>
   <g id="xtick_30">
    <g id="line2d_190">
     <path d="M 781.273814 313.067196 
L 786.825714 314.733637 
" style="fill: none; stroke: #000000; stroke-width: 0.8; stroke-linecap: square"/>
    </g>
    <g id="text_36">
     <text x="795.296" y="334.797" font-size="11.00" text-anchor="middle">0.5</text>
    </g>
   </g>
   <g id="xtick_31">
    <g id="line2d_191">
     <path d="M 803.232447 290.572604 
L 808.719194 292.18461 
" style="fill: none; stroke: #000000; stroke-width: 0.8; stroke-linecap: square"/>
    </g>
    <g id="text_37">
     <text x="817.040" y="312.068" font-size="11.00" text-anchor="middle">1.0</text>
    </g>
   </g>
   <g id="text_38">
    <text x="784.715" y="371.365" font-size="11.15" text-anchor="middle">Y</text>
   </g>
  </g>
  <g id="axis3d_6">
   <g id="line2d_192">
    <path d="M 815.971914 279.911101 
L 823.696047 111.23577 
" style="fill: none; stroke: #000000; stroke-width: 0.8; stroke-linecap: square"/>
   </g>
   <g id="xtick_32">
    <g id="line2d_193">
     <path d="M 815.070654 259.179553 
L 820.555055 260.749179 
" style="fill: none; stroke: #000000; stroke-width: 0.8; stroke-linecap: square"/>
    </g>
    <g id="text_39">
     <text x="835.261" y="265.671" font-size="11.00" text-anchor="middle">−1.0</text>
    </g>
   </g>
   <g id="xtick_33">
    <g id="line2d_194">
     <path d="M 816.539155 226.765251 
L 822.072339 228.309246 
" style="fill: none; stroke: #000000; stroke-width: 0.8; stroke-linecap: square"/>
    </g>
    <g id="text_40">
     <text x="836.900" y="233.291" font-size="11.00" text-anchor="middle">−0.5</text>
    </g>
   </g>
   <g id="xtick_34">
    <g id="line2d_195">
     <path d="M 818.033018 193.79112 
L 823.615859 195.30836 
" style="fill: none; stroke: #000000; stroke-width: 0.8; stroke-linecap: square"/>
    </g>
    <g id="text_41">
     <text x="838.567" y="200.352" font-size="11.00" text-anchor="middle">0.0</text>
    </g>
   </g>
   <g id="xtick_35">
    <g id="line2d_196">
     <path d="M 819.552907 160.242529 
L 825.186303 161.731843 
" style="fill: none; stroke: #000000; stroke-width: 0.8; stroke-linecap: square"/>
    </g>
    <g id="text_42">
     <text x="840.263" y="166.840" font-size="11.00" text-anchor="middle">0.5</text>
    </g>
   </g>
   <g id="xtick_36">
    <g id="line2d_197">
     <path d="M 821.099507 126.104336 
L 826.784381 127.564502 
" style="fill: none; stroke: #000000; stroke-width: 0.8; stroke-linecap: square"/>
    </g>
    <g id="text_43">
     <text x="841.989" y="132.740" font-size="11.00" text-anchor="middle">1.0</text>
    </g>
   </g>
   <g id="text_44">
    <text x="860.219" y="195.711" font-size="11.15" text-anchor="middle">Z</text>
   </g>
  </g>
  <g id="axes_2">
   <g id="line2d_198">
    <path d="M 523.39183 239.107918 
L 548.628919 231.013003 
" clip-path="url(#pab5bf3305e)" style="fill: none; stroke: #ffa500; stroke-opacity: 0.7; stroke-width: 1.6; stroke-linecap: square"/>
   </g>
   <g id="line2d_199">
    <path d="M 523.39183 239.107918 
L 562.35853 226.33065 
" clip-path="url(#pab5bf3305e)" style="fill: none; stroke: #ffa500; stroke-opacity: 0.7; stroke-width: 1.6; stroke-linecap: square"/>
   </g>
   <g id="line2d_200">
    <path d="M 523.39183 239.107918 
L 505.773484 273.074818 
" clip-path="url(#pab5bf3305e)" style="fill: none; stroke: #ffa500; stroke-opacity: 0.7; stroke-width: 1.6; stroke-linecap: square"/>
   </g>
   <g id="line2d_201">
    <path d="M 523.39183 239.107918 
L 564.263216 200.458665 
" clip-path="url(#pab5bf3305e)" style="fill: none; stroke: #ffa500; stroke-opacity: 0.7; stroke-width: 1.6; stroke-linecap: square"/>
   </g>
   <g id="line2d_202">
    <path d="M 505.773484 273.074818 
L 502.440284 293.232744 
" clip-path="url(#pab5bf3305e)" style="fill: none; stroke: #ffa500; stroke-opacity: 0.7; stroke-width: 1.6; stroke-linecap: square"/>
   </g>
   <g id="line2d_203">
    <path d="M 505.773484 273.074818 
L 530.931211 262.043511 
" clip-path="url(#pab5bf3305e)" style="fill: none; stroke: #ffa500; stroke-opacity: 0.7; stroke-width: 1.6; stroke-linecap: square"/>
   </g>
   <g id="line2d_204">
    <path d="M 505.773484 273.074818 
L 539.819746 261.805426 
" clip-path="url(#pab5bf3305e)" style="fill: none; stroke: #ffa500; stroke-opacity: 0.7; stroke-width: 1.6; stroke-linecap: square"/>
   </g>
   <g id="line2d_205">
    <path d="M 530.931211 262.043511 
L 529.185249 278.868237 
" clip-path="url(#pab5bf3305e)" style="fill: none; stroke: #ffa500; stroke-opacity: 0.7; stroke-width: 1.6; stroke-linecap: square"/>
   </g>
   <g id="line2d_206">
    <path d="M 539.819746 261.805426 
L 539.502298 280.534838 
" clip-path="url(#pab5bf3305e)" style="fill: none; stroke: #ffa500; stroke-opacity: 0.7; stroke-width: 1.6; stroke-linecap: square"/>
   </g>
   <g id="line2d_207">
    <path d="M 548.628919 231.013003 
L 530.931211 262.043511 
" clip-path="url(#pab5bf3305e)" style="fill: none; stroke: #ffa500; stroke-opacity: 0.7; stroke-width: 1.6; stroke-linecap: square"/>
   </g>
   <g id="line2d_208">
    <path d="M 562.35853 226.33065 
L 539.819746 261.805426 
" clip-path="url(#pab5bf3305e)" style="fill: none; stroke: #ffa500; stroke-opacity: 0.7; stroke-width: 1.6; stroke-linecap: square"/>
   </g>
   <g id="line2d_209">
    <path d="M 548.628919 231.013003 
L 582.199009 197.522274 
" clip-path="url(#pab5bf3305e)" style="fill: none; stroke: #ffa500; stroke-opacity: 0.7; stroke-width: 1.6; stroke-linecap: square"/>
   </g>
   <g id="line2d_210">
    <path d="M 562.35853 226.33065 
L 597.357134 191.173321 
" clip-path="url(#pab5bf3305e)" style="fill: none; stroke: #ffa500; stroke-opacity: 0.7; stroke-width: 1.6; stroke-linecap: square"/>
   </g>
   <g id="line2d_211">
    <path d="M 564.263216 200.458665 
L 582.199009 197.522274 
" clip-path="url(#pab5bf3305e)" style="fill: none; stroke: #ffa500; stroke-opacity: 0.7; stroke-width: 1.6; stroke-linecap: square"/>
   </g>
   <g id="line2d_212">
    <path d="M 564.263216 200.458665 
L 597.357134 191.173321 
" clip-path="url(#pab5bf3305e)" style="fill: none; stroke: #ffa500; stroke-opacity: 0.7; stroke-width: 1.6; stroke-linecap: square"/>
   </g>
   <g id="line2d_213">
    <path d="M 564.263216 200.458665 
L 602.753745 181.491168 
" clip-path="url(#pab5bf3305e)" style="fill: none; stroke: #ffa500; stroke-opacity: 0.7; stroke-width: 1.6; stroke-linecap: square"/>
   </g>
   <g id="line2d_214">
    <path d="M 582.199009 197.522274 
L 626.721043 177.84052 
" clip-path="url(#pab5bf3305e)" style="fill: none; stroke: #ffa500; stroke-opacity: 0.7; stroke-width: 1.6; stroke-linecap: square"/>
   </g>
   <g id="line2d_215">
    <path d="M 597.357134 191.173321 
L 639.180864 180.459463 
" clip-path="url(#pab5bf3305e)" style="fill: none; stroke: #ffa500; stroke-opacity: 0.7; stroke-width: 1.6; stroke-linecap: square"/>
   </g>
   <g id="line2d_216">
    <path d="M 597.357134 191.173321 
L 626.721043 177.84052 
" clip-path="url(#pab5bf3305e)" style="fill: none; stroke: #ffa500; stroke-opacity: 0.7; stroke-width: 1.6; stroke-linecap: square"/>
   </g>
   <g id="line2d_217">
    <path d="M 539.819746 261.805426 
L 574.104093 259.50393 
" clip-path="url(#pab5bf3305e)" style="fill: none; stroke: #ffa500; stroke-opacity: 0.7; stroke-width: 1.6; stroke-linecap: square"/>
   </g>
   <g id="line2d_218">
    <path d="M 539.819746 261.805426 
L 587.992428 248.155176 
" clip-path="url(#pab5bf3305e)" style="fill: none; stroke: #ffa500; stroke-opacity: 0.7; stroke-width: 1.6; stroke-linecap: square"/>
   </g>
   <g id="line2d_219">
    <path d="M 574.104093 259.50393 
L 581.802199 259.107121 
" clip-path="url(#pab5bf3305e)" style="fill: none; stroke: #ffa500; stroke-opacity: 0.7; stroke-width: 1.6; stroke-linecap: square"/>
   </g>
   <g id="line2d_220">
    <path d="M 502.440284 293.232744 
L 529.185249 278.868237 
" clip-path="url(#pab5bf3305e)" style="fill: none; stroke: #ffa500; stroke-opacity: 0.7; stroke-width: 1.6; stroke-linecap: square"/>
   </g>
   <g id="line2d_221">
    <path d="M 502.440284 293.232744 
L 539.502298 280.534838 
" clip-path="url(#pab5bf3305e)" style="fill: none; stroke: #ffa500; stroke-opacity: 0.7; stroke-width: 1.6; stroke-linecap: square"/>
   </g>
   <g id="line2d_222">
    <path d="M 502.440284 293.232744 
L 522.756934 291.645506 
" clip-path="url(#pab5bf3305e)" style="fill: none; stroke: #ffa500; stroke-opacity: 0.7; stroke-width: 1.6; stroke-linecap: square"/>
   </g>
   <g id="line2d_223">
    <path d="M 502.440284 293.232744 
L 641.720445 261.726064 
" clip-path="url(#pab5bf3305e)" style="fill: none; stroke: #ffa500; stroke-opacity: 0.7; stroke-width: 1.6; stroke-linecap: square"/>
   </g>
   <g id="line2d_224">
    <path d="M 522.756934 291.645506 
L 650.370894 252.599443 
" clip-path="url(#pab5bf3305e)" style="fill: none; stroke: #ffa500; stroke-opacity: 0.7; stroke-width: 1.6; stroke-linecap: square"/>
   </g>
   <g id="line2d_225">
    <path d="M 522.756934 291.645506 
L 653.704094 250.774119 
" clip-path="url(#pab5bf3305e)" style="fill: none; stroke: #ffa500; stroke-opacity: 0.7; stroke-width: 1.6; stroke-linecap: square"/>
   </g>
   <g id="line2d_226">
    <path d="M 529.185249 278.868237 
L 556.327024 272.519284 
" clip-path="url(#pab5bf3305e)" style="fill: none; stroke: #ffa500; stroke-opacity: 0.7; stroke-width: 1.6; stroke-linecap: square"/>
   </g>
   <g id="line2d_227">
    <path d="M 539.502298 280.534838 
L 564.818749 273.550989 
" clip-path="url(#pab5bf3305e)" style="fill: none; stroke: #ffa500; stroke-opacity: 0.7; stroke-width: 1.6; stroke-linecap: square"/>
   </g>
   <g id="line2d_228">
    <path d="M 539.502298 280.534838 
L 563.231511 281.249095 
" clip-path="url(#pab5bf3305e)" style="fill: none; stroke: #ffa500; stroke-opacity: 0.7; stroke-width: 1.6; stroke-linecap: square"/>
   </g>
   <g id="line2d_229">
    <path d="M 563.231511 281.249095 
L 569.81855 281.328457 
" clip-path="url(#pab5bf3305e)" style="fill: none; stroke: #ffa500; stroke-opacity: 0.7; stroke-width: 1.6; stroke-linecap: square"/>
   </g>
   <g id="line2d_230">
    <path d="M 556.327024 272.519284 
L 564.818749 273.550989 
" clip-path="url(#pab5bf3305e)" style="fill: none; stroke: #ffa500; stroke-opacity: 0.7; stroke-width: 1.6; stroke-linecap: square"/>
   </g>
   <g id="line2d_231">
    <path d="M 564.818749 273.550989 
L 573.627922 271.170132 
" clip-path="url(#pab5bf3305e)" style="fill: none; stroke: #ffa500; stroke-opacity: 0.7; stroke-width: 1.6; stroke-linecap: square"/>
   </g>
   <g id="line2d_232">
    <path d="M 573.627922 271.170132 
L 587.436895 268.868636 
" clip-path="url(#pab5bf3305e)" style="fill: none; stroke: #ffa500; stroke-opacity: 0.7; stroke-width: 1.6; stroke-linecap: square"/>
   </g>
   <g id="line2d_233">
    <path d="M 569.81855 281.328457 
L 574.580265 279.423771 
" clip-path="url(#pab5bf3305e)" style="fill: none; stroke: #ffa500; stroke-opacity: 0.7; stroke-width: 1.6; stroke-linecap: square"/>
   </g>
   <g id="line2d_234">
    <path d="M 574.580265 279.423771 
L 579.976875 279.661857 
" clip-path="url(#pab5bf3305e)" style="fill: none; stroke: #ffa500; stroke-opacity: 0.7; stroke-width: 1.6; stroke-linecap: square"/>
   </g>
   <g id="line2d_235">
    <path d="M 562.35853 226.33065 
L 601.960125 219.743611 
" clip-path="url(#pab5bf3305e)" style="fill: none; stroke: #ffa500; stroke-opacity: 0.7; stroke-width: 1.6; stroke-linecap: square"/>
   </g>
   <g id="line2d_236">
    <path d="M 562.35853 226.33065 
L 607.594821 217.680201 
" clip-path="url(#pab5bf3305e)" style="fill: none; stroke: #ffa500; stroke-opacity: 0.7; stroke-width: 1.6; stroke-linecap: square"/>
   </g>
   <g id="line2d_237">
    <path d="M 601.960125 219.743611 
L 607.594821 217.680201 
" clip-path="url(#pab5bf3305e)" style="fill: none; stroke: #ffa500; stroke-opacity: 0.7; stroke-width: 1.6; stroke-linecap: square"/>
   </g>
   <g id="line2d_238">
    <path d="M 607.594821 217.680201 
L 613.229517 214.029553 
" clip-path="url(#pab5bf3305e)" style="fill: none; stroke: #ffa500; stroke-opacity: 0.7; stroke-width: 1.6; stroke-linecap: square"/>
   </g>
   <g id="line2d_239">
    <path d="M 601.960125 219.743611 
L 587.992428 248.155176 
" clip-path="url(#pab5bf3305e)" style="fill: none; stroke: #ffa500; stroke-opacity: 0.7; stroke-width: 1.6; stroke-linecap: square"/>
   </g>
   <g id="line2d_240">
    <path d="M 607.594821 217.680201 
L 581.802199 259.107121 
" clip-path="url(#pab5bf3305e)" style="fill: none; stroke: #ffa500; stroke-opacity: 0.7; stroke-width: 1.6; stroke-linecap: square"/>
   </g>
   <g id="line2d_241">
    <path d="M 587.992428 248.155176 
L 574.104093 259.50393 
" clip-path="url(#pab5bf3305e)" style="fill: none; stroke: #ffa500; stroke-opacity: 0.7; stroke-width: 1.6; stroke-linecap: square"/>
   </g>
   <g id="line2d_242">
    <path d="M 574.104093 259.50393 
L 564.818749 273.550989 
" clip-path="url(#pab5bf3305e)" style="fill: none; stroke: #ffa500; stroke-opacity: 0.7; stroke-width: 1.6; stroke-linecap: square"/>
   </g>
   <g id="line2d_243">
    <path d="M 581.802199 259.107121 
L 573.627922 271.170132 
" clip-path="url(#pab5bf3305e)" style="fill: none; stroke: #ffa500; stroke-opacity: 0.7; stroke-width: 1.6; stroke-linecap: square"/>
   </g>
   <g id="line2d_244">
    <path d="M 581.802199 259.107121 
L 684.099707 231.568536 
" clip-path="url(#pab5bf3305e)" style="fill: none; stroke: #ffa500; stroke-opacity: 0.7; stroke-width: 1.6; stroke-linecap: square"/>
   </g>
   <g id="line2d_245">
    <path d="M 587.436895 268.868636 
L 694.416756 237.838127 
" clip-path="url(#pab5bf3305e)" style="fill: none; stroke: #ffa500; stroke-opacity: 0.7; stroke-width: 1.6; stroke-linecap: square"/>
   </g>
   <g id="line2d_246">
    <path d="M 579.976875 279.661857 
L 694.337394 243.790271 
" clip-path="url(#pab5bf3305e)" style="fill: none; stroke: #ffa500; stroke-opacity: 0.7; stroke-width: 1.6; stroke-linecap: square"/>
   </g>
   <g id="line2d_247">
    <path d="M 574.580265 279.423771 
L 694.337394 243.790271 
" clip-path="url(#pab5bf3305e)" style="fill: none; stroke: #ffa500; stroke-opacity: 0.7; stroke-width: 1.6; stroke-linecap: square"/>
   </g>
   <g id="line2d_248">
    <path d="M 601.960125 219.743611 
L 639.180864 180.459463 
" clip-path="url(#pab5bf3305e)" style="fill: none; stroke: #ffa500; stroke-opacity: 0.7; stroke-width: 1.6; stroke-linecap: square"/>
   </g>
   <g id="line2d_249">
    <path d="M 607.594821 217.680201 
L 643.466407 181.649891 
" clip-path="url(#pab5bf3305e)" style="fill: none; stroke: #ffa500; stroke-opacity: 0.7; stroke-width: 1.6; stroke-linecap: square"/>
   </g>
   <g id="line2d_250">
    <path d="M 613.229517 214.029553 
L 651.799408 175.935834 
" clip-path="url(#pab5bf3305e)" style="fill: none; stroke: #ffa500; stroke-opacity: 0.7; stroke-width: 1.6; stroke-linecap: square"/>
   </g>
   <g id="line2d_251">
    <path d="M 643.466407 181.649891 
L 666.640086 166.25368 
" clip-path="url(#pab5bf3305e)" style="fill: none; stroke: #ffa500; stroke-opacity: 0.7; stroke-width: 1.6; stroke-linecap: square"/>
   </g>
   <g id="line2d_252">
    <path d="M 602.753745 181.491168 
L 626.721043 177.84052 
" clip-path="url(#pab5bf3305e)" style="fill: none; stroke: #ffa500; stroke-opacity: 0.7; stroke-width: 1.6; stroke-linecap: square"/>
   </g>
   <g id="line2d_253">
    <path d="M 626.721043 177.84052 
L 642.672788 171.570928 
" clip-path="url(#pab5bf3305e)" style="fill: none; stroke: #ffa500; stroke-opacity: 0.7; stroke-width: 1.6; stroke-linecap: square"/>
   </g>
   <g id="line2d_254">
    <path d="M 642.672788 171.570928 
L 666.640086 166.25368 
" clip-path="url(#pab5bf3305e)" style="fill: none; stroke: #ffa500; stroke-opacity: 0.7; stroke-width: 1.6; stroke-linecap: square"/>
   </g>
   <g id="line2d_255">
    <path d="M 666.640086 166.25368 
L 672.274782 165.301337 
" clip-path="url(#pab5bf3305e)" style="fill: none; stroke: #ffa500; stroke-opacity: 0.7; stroke-width: 1.6; stroke-linecap: square"/>
   </g>
   <g id="line2d_256">
    <path d="M 672.274782 165.301337 
L 674.020744 163.714099 
" clip-path="url(#pab5bf3305e)" style="fill: none; stroke: #ffa500; stroke-opacity: 0.7; stroke-width: 1.6; stroke-linecap: square"/>
   </g>
   <g id="line2d_257">
    <path d="M 674.020744 163.714099 
L 679.020545 162.603032 
" clip-path="url(#pab5bf3305e)" style="fill: none; stroke: #ffa500; stroke-opacity: 0.7; stroke-width: 1.6; stroke-linecap: square"/>
   </g>
   <g id="line2d_258">
    <path d="M 679.020545 162.603032 
L 681.71885 162.285584 
" clip-path="url(#pab5bf3305e)" style="fill: none; stroke: #ffa500; stroke-opacity: 0.7; stroke-width: 1.6; stroke-linecap: square"/>
   </g>
   <g id="line2d_259">
    <path d="M 681.71885 162.285584 
L 693.067604 159.904727 
" clip-path="url(#pab5bf3305e)" style="fill: none; stroke: #ffa500; stroke-opacity: 0.7; stroke-width: 1.6; stroke-linecap: square"/>
   </g>
   <g id="line2d_260">
    <path d="M 693.067604 159.904727 
L 698.067404 158.873022 
" clip-path="url(#pab5bf3305e)" style="fill: none; stroke: #ffa500; stroke-opacity: 0.7; stroke-width: 1.6; stroke-linecap: square"/>
   </g>
   <g id="line2d_261">
    <path d="M 698.067404 158.873022 
L 745.208382 149.825764 
" clip-path="url(#pab5bf3305e)" style="fill: none; stroke: #ffa500; stroke-opacity: 0.7; stroke-width: 1.6; stroke-linecap: square"/>
   </g>
   <g id="line2d_262">
    <path d="M 745.208382 149.825764 
L 749.890735 148.159163 
" clip-path="url(#pab5bf3305e)" style="fill: none; stroke: #ffa500; stroke-opacity: 0.7; stroke-width: 1.6; stroke-linecap: square"/>
   </g>
   <g id="line2d_263">
    <path d="M 749.890735 148.159163 
L 756.239688 146.810011 
" clip-path="url(#pab5bf3305e)" style="fill: none; stroke: #ffa500; stroke-opacity: 0.7; stroke-width: 1.6; stroke-linecap: square"/>
   </g>
   <g id="line2d_264">
    <path d="M 756.239688 146.810011 
L 780.36571 143.080001 
" clip-path="url(#pab5bf3305e)" style="fill: none; stroke: #ffa500; stroke-opacity: 0.7; stroke-width: 1.6; stroke-linecap: square"/>
   </g>
   <g id="line2d_265">
    <path d="M 780.36571 143.080001 
L 790.524035 142.127658 
" clip-path="url(#pab5bf3305e)" style="fill: none; stroke: #ffa500; stroke-opacity: 0.7; stroke-width: 1.6; stroke-linecap: square"/>
   </g>
   <g id="line2d_266">
    <path d="M 790.524035 142.127658 
L 795.127027 149.27023 
" clip-path="url(#pab5bf3305e)" style="fill: none; stroke: #ffa500; stroke-opacity: 0.7; stroke-width: 1.6; stroke-linecap: square"/>
   </g>
   <g id="line2d_267">
    <path d="M 795.127027 149.27023 
L 790.762121 148.794059 
" clip-path="url(#pab5bf3305e)" style="fill: none; stroke: #ffa500; stroke-opacity: 0.7; stroke-width: 1.6; stroke-linecap: square"/>
   </g>
   <g id="line2d_268">
    <path d="M 780.36571 143.080001 
L 790.762121 148.794059 
" clip-path="url(#pab5bf3305e)" style="fill: none; stroke: #ffa500; stroke-opacity: 0.7; stroke-width: 1.6; stroke-linecap: square"/>
   </g>
   <g id="line2d_269">
    <path d="M 639.180864 180.459463 
L 643.466407 181.649891 
" clip-path="url(#pab5bf3305e)" style="fill: none; stroke: #ffa500; stroke-opacity: 0.7; stroke-width: 1.6; stroke-linecap: square"/>
   </g>
   <g id="line2d_270">
    <path d="M 643.466407 181.649891 
L 651.799408 175.935834 
" clip-path="url(#pab5bf3305e)" style="fill: none; stroke: #ffa500; stroke-opacity: 0.7; stroke-width: 1.6; stroke-linecap: square"/>
   </g>
   <g id="line2d_271">
    <path d="M 651.799408 175.935834 
L 738.145172 160.380898 
" clip-path="url(#pab5bf3305e)" style="fill: none; stroke: #ffa500; stroke-opacity: 0.7; stroke-width: 1.6; stroke-linecap: square"/>
   </g>
   <g id="line2d_272">
    <path d="M 639.180864 180.459463 
L 750.049459 156.254079 
" clip-path="url(#pab5bf3305e)" style="fill: none; stroke: #ffa500; stroke-opacity: 0.7; stroke-width: 1.6; stroke-linecap: square"/>
   </g>
   <g id="line2d_273">
    <path d="M 643.466407 181.649891 
L 754.176278 154.428755 
" clip-path="url(#pab5bf3305e)" style="fill: none; stroke: #ffa500; stroke-opacity: 0.7; stroke-width: 1.6; stroke-linecap: square"/>
   </g>
   <g id="line2d_274">
    <path d="M 738.145172 160.380898 
L 750.049459 156.254079 
" clip-path="url(#pab5bf3305e)" style="fill: none; stroke: #ffa500; stroke-opacity: 0.7; stroke-width: 1.6; stroke-linecap: square"/>
   </g>
   <g id="line2d_275">
    <path d="M 750.049459 156.254079 
L 754.176278 154.428755 
" clip-path="url(#pab5bf3305e)" style="fill: none; stroke: #ffa500; stroke-opacity: 0.7; stroke-width: 1.6; stroke-linecap: square"/>
   </g>
   <g id="line2d_276">
    <path d="M 754.176278 154.428755 
L 790.762121 148.794059 
" clip-path="url(#pab5bf3305e)" style="fill: none; stroke: #ffa500; stroke-opacity: 0.7; stroke-width: 1.6; stroke-linecap: square"/>
   </g>
   <g id="line2d_277">
    <path d="M 745.208382 149.825764 
L 738.145172 160.380898 
" clip-path="url(#pab5bf3305e)" style="fill: none; stroke: #ffa500; stroke-opacity: 0.7; stroke-width: 1.6; stroke-linecap: square"/>
   </g>
   <g id="line2d_278">
    <path d="M 749.890735 148.159163 
L 750.049459 156.254079 
" clip-path="url(#pab5bf3305e)" style="fill: none; stroke: #ffa500; stroke-opacity: 0.7; stroke-width: 1.6; stroke-linecap: square"/>
   </g>
   <g id="line2d_279">
    <path d="M 756.239688 146.810011 
L 754.176278 154.428755 
" clip-path="url(#pab5bf3305e)" style="fill: none; stroke: #ffa500; stroke-opacity: 0.7; stroke-width: 1.6; stroke-linecap: square"/>
   </g>
   <g id="line2d_280">
    <path d="M 738.145172 160.380898 
L 717.35235 188.951188 
" clip-path="url(#pab5bf3305e)" style="fill: none; stroke: #ffa500; stroke-opacity: 0.7; stroke-width: 1.6; stroke-linecap: square"/>
   </g>
   <g id="line2d_281">
    <path d="M 750.049459 156.254079 
L 721.875979 191.093959 
" clip-path="url(#pab5bf3305e)" style="fill: none; stroke: #ffa500; stroke-opacity: 0.7; stroke-width: 1.6; stroke-linecap: square"/>
   </g>
   <g id="line2d_282">
    <path d="M 754.176278 154.428755 
L 726.87578 189.109911 
" clip-path="url(#pab5bf3305e)" style="fill: none; stroke: #ffa500; stroke-opacity: 0.7; stroke-width: 1.6; stroke-linecap: square"/>
   </g>
   <g id="line2d_283">
    <path d="M 717.35235 188.951188 
L 721.875979 191.093959 
" clip-path="url(#pab5bf3305e)" style="fill: none; stroke: #ffa500; stroke-opacity: 0.7; stroke-width: 1.6; stroke-linecap: square"/>
   </g>
   <g id="line2d_284">
    <path d="M 721.875979 191.093959 
L 726.87578 189.109911 
" clip-path="url(#pab5bf3305e)" style="fill: none; stroke: #ffa500; stroke-opacity: 0.7; stroke-width: 1.6; stroke-linecap: square"/>
   </g>
   <g id="line2d_285">
    <path d="M 726.87578 189.109911 
L 768.302699 179.903929 
" clip-path="url(#pab5bf3305e)" style="fill: none; stroke: #ffa500; stroke-opacity: 0.7; stroke-width: 1.6; stroke-linecap: square"/>
   </g>
   <g id="line2d_286">
    <path d="M 721.875979 191.093959 
L 768.302699 179.903929 
" clip-path="url(#pab5bf3305e)" style="fill: none; stroke: #ffa500; stroke-opacity: 0.7; stroke-width: 1.6; stroke-linecap: square"/>
   </g>
   <g id="line2d_287">
    <path d="M 768.302699 179.903929 
L 776.397615 176.332643 
" clip-path="url(#pab5bf3305e)" style="fill: none; stroke: #ffa500; stroke-opacity: 0.7; stroke-width: 1.6; stroke-linecap: square"/>
   </g>
   <g id="line2d_288">
    <path d="M 776.397615 176.332643 
L 795.127027 149.27023 
" clip-path="url(#pab5bf3305e)" style="fill: none; stroke: #ffa500; stroke-opacity: 0.7; stroke-width: 1.6; stroke-linecap: square"/>
   </g>
   <g id="line2d_289">
    <path d="M 768.302699 179.903929 
L 790.762121 148.794059 
" clip-path="url(#pab5bf3305e)" style="fill: none; stroke: #ffa500; stroke-opacity: 0.7; stroke-width: 1.6; stroke-linecap: square"/>
   </g>
   <g id="line2d_290">
    <path d="M 768.302699 179.903929 
L 743.779868 208.553581 
" clip-path="url(#pab5bf3305e)" style="fill: none; stroke: #ffa500; stroke-opacity: 0.7; stroke-width: 1.6; stroke-linecap: square"/>
   </g>
   <g id="line2d_291">
    <path d="M 776.397615 176.332643 
L 743.779868 208.553581 
" clip-path="url(#pab5bf3305e)" style="fill: none; stroke: #ffa500; stroke-opacity: 0.7; stroke-width: 1.6; stroke-linecap: square"/>
   </g>
   <g id="line2d_292">
    <path d="M 743.779868 208.553581 
L 730.923237 216.489772 
" clip-path="url(#pab5bf3305e)" style="fill: none; stroke: #ffa500; stroke-opacity: 0.7; stroke-width: 1.6; stroke-linecap: square"/>
   </g>
   <g id="line2d_293">
    <path d="M 653.704094 250.774119 
L 685.686946 223.711706 
" clip-path="url(#pab5bf3305e)" style="fill: none; stroke: #ffa500; stroke-opacity: 0.7; stroke-width: 1.6; stroke-linecap: square"/>
   </g>
   <g id="line2d_294">
    <path d="M 685.686946 223.711706 
L 717.35235 188.951188 
" clip-path="url(#pab5bf3305e)" style="fill: none; stroke: #ffa500; stroke-opacity: 0.7; stroke-width: 1.6; stroke-linecap: square"/>
   </g>
   <g id="line2d_295">
    <path d="M 650.370894 252.599443 
L 684.099707 231.568536 
" clip-path="url(#pab5bf3305e)" style="fill: none; stroke: #ffa500; stroke-opacity: 0.7; stroke-width: 1.6; stroke-linecap: square"/>
   </g>
   <g id="line2d_296">
    <path d="M 684.099707 231.568536 
L 721.875979 191.093959 
" clip-path="url(#pab5bf3305e)" style="fill: none; stroke: #ffa500; stroke-opacity: 0.7; stroke-width: 1.6; stroke-linecap: square"/>
   </g>
   <g id="line2d_297">
    <path d="M 657.592828 256.408815 
L 688.78206 229.743212 
" clip-path="url(#pab5bf3305e)" style="fill: none; stroke: #ffa500; stroke-opacity: 0.7; stroke-width: 1.6; stroke-linecap: square"/>
   </g>
   <g id="line2d_298">
    <path d="M 688.78206 229.743212 
L 726.87578 189.109911 
" clip-path="url(#pab5bf3305e)" style="fill: none; stroke: #ffa500; stroke-opacity: 0.7; stroke-width: 1.6; stroke-linecap: square"/>
   </g>
   <g id="line2d_299">
    <path d="M 653.307284 257.202435 
L 684.099707 231.568536 
" clip-path="url(#pab5bf3305e)" style="fill: none; stroke: #ffa500; stroke-opacity: 0.7; stroke-width: 1.6; stroke-linecap: square"/>
   </g>
   <g id="line2d_300">
    <path d="M 670.52882 253.154977 
L 694.416756 237.838127 
" clip-path="url(#pab5bf3305e)" style="fill: none; stroke: #ffa500; stroke-opacity: 0.7; stroke-width: 1.6; stroke-linecap: square"/>
   </g>
   <g id="line2d_301">
    <path d="M 670.52882 253.154977 
L 694.337394 243.790271 
" clip-path="url(#pab5bf3305e)" style="fill: none; stroke: #ffa500; stroke-opacity: 0.7; stroke-width: 1.6; stroke-linecap: square"/>
   </g>
   <g id="line2d_302">
    <path d="M 694.416756 237.838127 
L 706.321044 234.028755 
" clip-path="url(#pab5bf3305e)" style="fill: none; stroke: #ffa500; stroke-opacity: 0.7; stroke-width: 1.6; stroke-linecap: square"/>
   </g>
   <g id="line2d_303">
    <path d="M 694.337394 243.790271 
L 706.321044 234.028755 
" clip-path="url(#pab5bf3305e)" style="fill: none; stroke: #ffa500; stroke-opacity: 0.7; stroke-width: 1.6; stroke-linecap: square"/>
   </g>
   <g id="line2d_304">
    <path d="M 706.321044 234.028755 
L 730.923237 216.489772 
" clip-path="url(#pab5bf3305e)" style="fill: none; stroke: #ffa500; stroke-opacity: 0.7; stroke-width: 1.6; stroke-linecap: square"/>
   </g>
   <g id="line2d_305">
    <path d="M 688.78206 229.743212 
L 730.923237 216.489772 
" clip-path="url(#pab5bf3305e)" style="fill: none; stroke: #ffa500; stroke-opacity: 0.7; stroke-width: 1.6; stroke-linecap: square"/>
   </g>
   <g id="line2d_306">
    <path d="M 641.720445 261.726064 
L 647.355141 260.059463 
" clip-path="url(#pab5bf3305e)" style="fill: none; stroke: #ffa500; stroke-opacity: 0.7; stroke-width: 1.6; stroke-linecap: square"/>
   </g>
   <g id="line2d_307">
    <path d="M 647.355141 260.059463 
L 653.307284 257.202435 
" clip-path="url(#pab5bf3305e)" style="fill: none; stroke: #ffa500; stroke-opacity: 0.7; stroke-width: 1.6; stroke-linecap: square"/>
   </g>
   <g id="line2d_308">
    <path d="M 653.307284 257.202435 
L 657.592828 256.408815 
" clip-path="url(#pab5bf3305e)" style="fill: none; stroke: #ffa500; stroke-opacity: 0.7; stroke-width: 1.6; stroke-linecap: square"/>
   </g>
   <g id="line2d_309">
    <path d="M 657.592828 256.408815 
L 670.52882 253.154977 
" clip-path="url(#pab5bf3305e)" style="fill: none; stroke: #ffa500; stroke-opacity: 0.7; stroke-width: 1.6; stroke-linecap: square"/>
   </g>
   <g id="line2d_310">
    <path d="M 650.370894 252.599443 
L 653.704094 250.774119 
" clip-path="url(#pab5bf3305e)" style="fill: none; stroke: #ffa500; stroke-opacity: 0.7; stroke-width: 1.6; stroke-linecap: square"/>
   </g>
   <g id="line2d_311">
    <path d="M 548.628919 231.013003 
L 562.35853 226.33065 
" clip-path="url(#pab5bf3305e)" style="fill: none; stroke: #ffa500; stroke-opacity: 0.7; stroke-width: 1.6; stroke-linecap: square"/>
   </g>
   <g id="line2d_312">
    <path d="M 562.35853 226.33065 
L 613.229517 214.029553 
" clip-path="url(#pab5bf3305e)" style="fill: none; stroke: #ffa500; stroke-opacity: 0.7; stroke-width: 1.6; stroke-linecap: square"/>
   </g>
   <g id="line2d_313">
    <path d="M 548.628919 231.013003 
L 601.960125 219.743611 
" clip-path="url(#pab5bf3305e)" style="fill: none; stroke: #ffa500; stroke-opacity: 0.7; stroke-width: 1.6; stroke-linecap: square"/>
   </g>
   <g id="line2d_314">
    <path d="M 530.931211 262.043511 
L 539.819746 261.805426 
" clip-path="url(#pab5bf3305e)" style="fill: none; stroke: #ffa500; stroke-opacity: 0.7; stroke-width: 1.6; stroke-linecap: square"/>
   </g>
   <g id="line2d_315">
    <path d="M 522.756934 291.645506 
L 563.231511 281.249095 
" clip-path="url(#pab5bf3305e)" style="fill: none; stroke: #ffa500; stroke-opacity: 0.7; stroke-width: 1.6; stroke-linecap: square"/>
   </g>
   <g id="line2d_316">
    <path d="M 522.756934 291.645506 
L 579.976875 279.661857 
" clip-path="url(#pab5bf3305e)" style="fill: none; stroke: #ffa500; stroke-opacity: 0.7; stroke-width: 1.6; stroke-linecap: square"/>
   </g>
   <g id="line2d_317">
    <path d="M 502.440284 293.232744 
L 556.327024 272.519284 
" clip-path="url(#pab5bf3305e)" style="fill: none; stroke: #ffa500; stroke-opacity: 0.7; stroke-width: 1.6; stroke-linecap: square"/>
   </g>
   <g id="line2d_318">
    <path d="M 529.185249 278.868237 
L 539.502298 280.534838 
" clip-path="url(#pab5bf3305e)" style="fill: none; stroke: #ffa500; stroke-opacity: 0.7; stroke-width: 1.6; stroke-linecap: square"/>
   </g>
   <g id="line2d_319">
    <path d="M 556.327024 272.519284 
L 573.627922 271.170132 
" clip-path="url(#pab5bf3305e)" style="fill: none; stroke: #ffa500; stroke-opacity: 0.7; stroke-width: 1.6; stroke-linecap: square"/>
   </g>
   <g id="line2d_320">
    <path d="M 564.818749 273.550989 
L 574.580265 279.423771 
" clip-path="url(#pab5bf3305e)" style="fill: none; stroke: #ffa500; stroke-opacity: 0.7; stroke-width: 1.6; stroke-linecap: square"/>
   </g>
   <g id="line2d_321">
    <path d="M 563.231511 281.249095 
L 574.580265 279.423771 
" clip-path="url(#pab5bf3305e)" style="fill: none; stroke: #ffa500; stroke-opacity: 0.7; stroke-width: 1.6; stroke-linecap: square"/>
   </g>
   <g id="line2d_322">
    <path d="M 602.753745 181.491168 
L 642.672788 171.570928 
" clip-path="url(#pab5bf3305e)" style="fill: none; stroke: #ffa500; stroke-opacity: 0.7; stroke-width: 1.6; stroke-linecap: square"/>
   </g>
   <g id="line2d_323">
    <path d="M 626.721043 177.84052 
L 666.640086 166.25368 
" clip-path="url(#pab5bf3305e)" style="fill: none; stroke: #ffa500; stroke-opacity: 0.7; stroke-width: 1.6; stroke-linecap: square"/>
   </g>
   <g id="line2d_324">
    <path d="M 642.672788 171.570928 
L 672.274782 165.301337 
" clip-path="url(#pab5bf3305e)" style="fill: none; stroke: #ffa500; stroke-opacity: 0.7; stroke-width: 1.6; stroke-linecap: square"/>
   </g>
   <g id="line2d_325">
    <path d="M 666.640086 166.25368 
L 679.020545 162.603032 
" clip-path="url(#pab5bf3305e)" style="fill: none; stroke: #ffa500; stroke-opacity: 0.7; stroke-width: 1.6; stroke-linecap: square"/>
   </g>
   <g id="line2d_326">
    <path d="M 672.274782 165.301337 
L 681.71885 162.285584 
" clip-path="url(#pab5bf3305e)" style="fill: none; stroke: #ffa500; stroke-opacity: 0.7; stroke-width: 1.6; stroke-linecap: square"/>
   </g>
   <g id="line2d_327">
    <path d="M 674.020744 163.714099 
L 693.067604 159.904727 
" clip-path="url(#pab5bf3305e)" style="fill: none; stroke: #ffa500; stroke-opacity: 0.7; stroke-width: 1.6; stroke-linecap: square"/>
   </g>
   <g id="line2d_328">
    <path d="M 679.020545 162.603032 
L 698.067404 158.873022 
" clip-path="url(#pab5bf3305e)" style="fill: none; stroke: #ffa500; stroke-opacity: 0.7; stroke-width: 1.6; stroke-linecap: square"/>
   </g>
   <g id="line2d_329">
    <path d="M 681.71885 162.285584 
L 745.208382 149.825764 
" clip-path="url(#pab5bf3305e)" style="fill: none; stroke: #ffa500; stroke-opacity: 0.7; stroke-width: 1.6; stroke-linecap: square"/>
   </g>
   <g id="line2d_330">
    <path d="M 693.067604 159.904727 
L 749.890735 148.159163 
" clip-path="url(#pab5bf3305e)" style="fill: none; stroke: #ffa500; stroke-opacity: 0.7; stroke-width: 1.6; stroke-linecap: square"/>
   </g>
   <g id="line2d_331">
    <path d="M 698.067404 158.873022 
L 756.239688 146.810011 
" clip-path="url(#pab5bf3305e)" style="fill: none; stroke: #ffa500; stroke-opacity: 0.7; stroke-width: 1.6; stroke-linecap: square"/>
   </g>
   <g id="line2d_332">
    <path d="M 651.799408 175.935834 
L 750.049459 156.254079 
" clip-path="url(#pab5bf3305e)" style="fill: none; stroke: #ffa500; stroke-opacity: 0.7; stroke-width: 1.6; stroke-linecap: square"/>
   </g>
   <g id="line2d_333">
    <path d="M 639.180864 180.459463 
L 738.145172 160.380898 
" clip-path="url(#pab5bf3305e)" style="fill: none; stroke: #ffa500; stroke-opacity: 0.7; stroke-width: 1.6; stroke-linecap: square"/>
   </g>
   <g id="line2d_334">
    <path d="M 643.466407 181.649891 
L 750.049459 156.254079 
" clip-path="url(#pab5bf3305e)" style="fill: none; stroke: #ffa500; stroke-opacity: 0.7; stroke-width: 1.6; stroke-linecap: square"/>
   </g>
   <g id="line2d_335">
    <path d="M 651.799408 175.935834 
L 754.176278 154.428755 
" clip-path="url(#pab5bf3305e)" style="fill: none; stroke: #ffa500; stroke-opacity: 0.7; stroke-width: 1.6; stroke-linecap: square"/>
   </g>
   <g id="line2d_336">
    <path d="M 738.145172 160.380898 
L 754.176278 154.428755 
" clip-path="url(#pab5bf3305e)" style="fill: none; stroke: #ffa500; stroke-opacity: 0.7; stroke-width: 1.6; stroke-linecap: square"/>
   </g>
   <g id="line2d_337">
    <path d="M 750.049459 156.254079 
L 790.762121 148.794059 
" clip-path="url(#pab5bf3305e)" style="fill: none; stroke: #ffa500; stroke-opacity: 0.7; stroke-width: 1.6; stroke-linecap: square"/>
   </g>
   <g id="line2d_338">
    <path d="M 754.176278 154.428755 
L 795.127027 149.27023 
" clip-path="url(#pab5bf3305e)" style="fill: none; stroke: #ffa500; stroke-opacity: 0.7; stroke-width: 1.6; stroke-linecap: square"/>
   </g>
   <g id="line2d_339">
    <path d="M 717.35235 188.951188 
L 768.302699 179.903929 
" clip-path="url(#pab5bf3305e)" style="fill: none; stroke: #ffa500; stroke-opacity: 0.7; stroke-width: 1.6; stroke-linecap: square"/>
   </g>
   <g id="line2d_340">
    <path d="M 726.87578 189.109911 
L 776.397615 176.332643 
" clip-path="url(#pab5bf3305e)" style="fill: none; stroke: #ffa500; stroke-opacity: 0.7; stroke-width: 1.6; stroke-linecap: square"/>
   </g>
   <g id="line2d_341">
    <path d="M 639.180864 180.459463 
L 666.640086 166.25368 
" clip-path="url(#pab5bf3305e)" style="fill: none; stroke: #ffa500; stroke-opacity: 0.7; stroke-width: 1.6; stroke-linecap: square"/>
   </g>
   <g id="line2d_342">
    <path d="M 685.686946 223.711706 
L 730.923237 216.489772 
" clip-path="url(#pab5bf3305e)" style="fill: none; stroke: #ffa500; stroke-opacity: 0.7; stroke-width: 1.6; stroke-linecap: square"/>
   </g>
   <g id="line2d_343">
    <path d="M 573.627922 271.170132 
L 650.370894 252.599443 
" clip-path="url(#pab5bf3305e)" style="fill: none; stroke: #ffa500; stroke-opacity: 0.7; stroke-width: 1.6; stroke-linecap: square"/>
   </g>
   <g id="line2d_344">
    <path d="M 641.720445 261.726064 
L 653.307284 257.202435 
" clip-path="url(#pab5bf3305e)" style="fill: none; stroke: #ffa500; stroke-opacity: 0.7; stroke-width: 1.6; stroke-linecap: square"/>
   </g>
   <g id="line2d_345">
    <path d="M 647.355141 260.059463 
L 657.592828 256.408815 
" clip-path="url(#pab5bf3305e)" style="fill: none; stroke: #ffa500; stroke-opacity: 0.7; stroke-width: 1.6; stroke-linecap: square"/>
   </g>
   <g id="line2d_346">
    <path d="M 653.307284 257.202435 
L 670.52882 253.154977 
" clip-path="url(#pab5bf3305e)" style="fill: none; stroke: #ffa500; stroke-opacity: 0.7; stroke-width: 1.6; stroke-linecap: square"/>
   </g>
   <g id="line2d_347">
    <path d="M 657.592828 256.408815 
L 694.337394 243.790271 
" clip-path="url(#pab5bf3305e)" style="fill: none; stroke: #ffa500; stroke-opacity: 0.7; stroke-width: 1.6; stroke-linecap: square"/>
   </g>
   <g id="line2d_348">
    <path d="M 670.52882 253.154977 
L 706.321044 234.028755 
" clip-path="url(#pab5bf3305e)" style="fill: none; stroke: #ffa500; stroke-opacity: 0.7; stroke-width: 1.6; stroke-linecap: square"/>
   </g>
   <g id="line2d_349">
    <path d="M 653.704094 250.774119 
L 684.099707 231.568536 
" clip-path="url(#pab5bf3305e)" style="fill: none; stroke: #ffa500; stroke-opacity: 0.7; stroke-width: 1.6; stroke-linecap: square"/>
   </g>
   <g id="line2d_350">
    <path d="M 650.370894 252.599443 
L 685.686946 223.711706 
" clip-path="url(#pab5bf3305e)" style="fill: none; stroke: #ffa500; stroke-opacity: 0.7; stroke-width: 1.6; stroke-linecap: square"/>
   </g>
   <g id="Path3DCollection_3">
    <defs>
     <path id="C1_0_0d1cea3f2e" d="M 0 2.236068 
C 0.593012 2.236068 1.161816 2.000462 1.581139 1.581139 
C 2.000462 1.161816 2.236068 0.593012 2.236068 -0 
C 2.236068 -0.593012 2.000462 -1.161816 1.581139 -1.581139 
C 1.161816 -2.000462 0.593012 -2.236068 0 -2.236068 
C -0.593012 -2.236068 -1.161816 -2.000462 -1.581139 -1.581139 
C -2.000462 -1.161816 -2.236068 -0.593012 -2.236068 0 
C -2.236068 0.593012 -2.000462 1.161816 -1.581139 1.581139 
C -1.161816 2.000462 -0.593012 2.236068 0 2.236068 
z
"/>
    </defs>
    <g clip-path="url(#pab5bf3305e)">
     <use href="#C1_0_0d1cea3f2e" x="694.337394" y="243.790271" style="fill: #008000; fill-opacity: 0.3; stroke: #008000; stroke-opacity: 0.3"/>
    </g>
    <g clip-path="url(#pab5bf3305e)">
     <use href="#C1_0_0d1cea3f2e" x="706.321044" y="234.028755" style="fill: #008000; fill-opacity: 0.32068; stroke: #008000; stroke-opacity: 0.32068"/>
    </g>
    <g clip-path="url(#pab5bf3305e)">
     <use href="#C1_0_0d1cea3f2e" x="670.52882" y="253.154977" style="fill: #008000; fill-opacity: 0.321019; stroke: #008000; stroke-opacity: 0.321019"/>
    </g>
    <g clip-path="url(#pab5bf3305e)">
     <use href="#C1_0_0d1cea3f2e" x="694.416756" y="237.838127" style="fill: #008000; fill-opacity: 0.336596; stroke: #008000; stroke-opacity: 0.336596"/>
    </g>
    <g clip-path="url(#pab5bf3305e)">
     <use href="#C1_0_0d1cea3f2e" x="657.592828" y="256.408815" style="fill: #008000; fill-opacity: 0.343799; stroke: #008000; stroke-opacity: 0.343799"/>
    </g>
    <g clip-path="url(#pab5bf3305e)">
     <use href="#C1_0_0d1cea3f2e" x="730.923237" y="216.489772" style="fill: #008000; fill-opacity: 0.347647; stroke: #008000; stroke-opacity: 0.347647"/>
    </g>
    <g clip-path="url(#pab5bf3305e)">
     <use href="#C1_0_0d1cea3f2e" x="653.307284" y="257.202435" style="fill: #008000; fill-opacity: 0.353107; stroke: #008000; stroke-opacity: 0.353107"/>
    </g>
    <g clip-path="url(#pab5bf3305e)">
     <use href="#C1_0_0d1cea3f2e" x="743.779868" y="208.553581" style="fill: #008000; fill-opacity: 0.354127; stroke: #008000; stroke-opacity: 0.354127"/>
    </g>
    <g clip-path="url(#pab5bf3305e)">
     <use href="#C1_0_0d1cea3f2e" x="647.355141" y="260.059463" style="fill: #008000; fill-opacity: 0.355167; stroke: #008000; stroke-opacity: 0.355167"/>
    </g>
    <g clip-path="url(#pab5bf3305e)">
     <use href="#C1_0_0d1cea3f2e" x="641.720445" y="261.726064" style="fill: #008000; fill-opacity: 0.363546; stroke: #008000; stroke-opacity: 0.363546"/>
    </g>
    <g clip-path="url(#pab5bf3305e)">
     <use href="#C1_0_0d1cea3f2e" x="650.370894" y="252.599443" style="fill: #008000; fill-opacity: 0.391356; stroke: #008000; stroke-opacity: 0.391356"/>
    </g>
    <g clip-path="url(#pab5bf3305e)">
     <use href="#C1_0_0d1cea3f2e" x="653.704094" y="250.774119" style="fill: #008000; fill-opacity: 0.391598; stroke: #008000; stroke-opacity: 0.391598"/>
    </g>
    <g clip-path="url(#pab5bf3305e)">
     <use href="#C1_0_0d1cea3f2e" x="688.78206" y="229.743212" style="fill: #008000; fill-opacity: 0.405424; stroke: #008000; stroke-opacity: 0.405424"/>
    </g>
    <g clip-path="url(#pab5bf3305e)">
     <use href="#C1_0_0d1cea3f2e" x="684.099707" y="231.568536" style="fill: #008000; fill-opacity: 0.409659; stroke: #008000; stroke-opacity: 0.409659"/>
    </g>
    <g clip-path="url(#pab5bf3305e)">
     <use href="#C1_0_0d1cea3f2e" x="776.397615" y="176.332643" style="fill: #008000; fill-opacity: 0.445413; stroke: #008000; stroke-opacity: 0.445413"/>
    </g>
    <g clip-path="url(#pab5bf3305e)">
     <use href="#C1_0_0d1cea3f2e" x="768.302699" y="179.903929" style="fill: #008000; fill-opacity: 0.450161; stroke: #008000; stroke-opacity: 0.450161"/>
    </g>
    <g clip-path="url(#pab5bf3305e)">
     <use href="#C1_0_0d1cea3f2e" x="685.686946" y="223.711706" style="fill: #008000; fill-opacity: 0.453046; stroke: #008000; stroke-opacity: 0.453046"/>
    </g>
    <g clip-path="url(#pab5bf3305e)">
     <use href="#C1_0_0d1cea3f2e" x="579.976875" y="279.661857" style="fill: #008000; fill-opacity: 0.457379; stroke: #008000; stroke-opacity: 0.457379"/>
    </g>
    <g clip-path="url(#pab5bf3305e)">
     <use href="#C1_0_0d1cea3f2e" x="574.580265" y="279.423771" style="fill: #008000; fill-opacity: 0.476763; stroke: #008000; stroke-opacity: 0.476763"/>
    </g>
    <g clip-path="url(#pab5bf3305e)">
     <use href="#C1_0_0d1cea3f2e" x="569.81855" y="281.328457" style="fill: #008000; fill-opacity: 0.48077; stroke: #008000; stroke-opacity: 0.48077"/>
    </g>
    <g clip-path="url(#pab5bf3305e)">
     <use href="#C1_0_0d1cea3f2e" x="587.436895" y="268.868636" style="fill: #008000; fill-opacity: 0.49946; stroke: #008000; stroke-opacity: 0.49946"/>
    </g>
    <g clip-path="url(#pab5bf3305e)">
     <use href="#C1_0_0d1cea3f2e" x="563.231511" y="281.249095" style="fill: #008000; fill-opacity: 0.503121; stroke: #008000; stroke-opacity: 0.503121"/>
    </g>
    <g clip-path="url(#pab5bf3305e)">
     <use href="#C1_0_0d1cea3f2e" x="726.87578" y="189.109911" style="fill: #008000; fill-opacity: 0.530632; stroke: #008000; stroke-opacity: 0.530632"/>
    </g>
    <g clip-path="url(#pab5bf3305e)">
     <use href="#C1_0_0d1cea3f2e" x="573.627922" y="271.170132" style="fill: #008000; fill-opacity: 0.531034; stroke: #008000; stroke-opacity: 0.531034"/>
    </g>
    <g clip-path="url(#pab5bf3305e)">
     <use href="#C1_0_0d1cea3f2e" x="721.875979" y="191.093959" style="fill: #008000; fill-opacity: 0.534938; stroke: #008000; stroke-opacity: 0.534938"/>
    </g>
    <g clip-path="url(#pab5bf3305e)">
     <use href="#C1_0_0d1cea3f2e" x="564.818749" y="273.550989" style="fill: #008000; fill-opacity: 0.545525; stroke: #008000; stroke-opacity: 0.545525"/>
    </g>
    <g clip-path="url(#pab5bf3305e)">
     <use href="#C1_0_0d1cea3f2e" x="795.127027" y="149.27023" style="fill: #008000; fill-opacity: 0.550844; stroke: #008000; stroke-opacity: 0.550844"/>
    </g>
    <g clip-path="url(#pab5bf3305e)">
     <use href="#C1_0_0d1cea3f2e" x="717.35235" y="188.951188" style="fill: #008000; fill-opacity: 0.563219; stroke: #008000; stroke-opacity: 0.563219"/>
    </g>
    <g clip-path="url(#pab5bf3305e)">
     <use href="#C1_0_0d1cea3f2e" x="790.762121" y="148.794059" style="fill: #008000; fill-opacity: 0.568278; stroke: #008000; stroke-opacity: 0.568278"/>
    </g>
    <g clip-path="url(#pab5bf3305e)">
     <use href="#C1_0_0d1cea3f2e" x="522.756934" y="291.645506" style="fill: #008000; fill-opacity: 0.573059; stroke: #008000; stroke-opacity: 0.573059"/>
    </g>
    <g clip-path="url(#pab5bf3305e)">
     <use href="#C1_0_0d1cea3f2e" x="581.802199" y="259.107121" style="fill: #008000; fill-opacity: 0.578609; stroke: #008000; stroke-opacity: 0.578609"/>
    </g>
    <g clip-path="url(#pab5bf3305e)">
     <use href="#C1_0_0d1cea3f2e" x="556.327024" y="272.519284" style="fill: #008000; fill-opacity: 0.580095; stroke: #008000; stroke-opacity: 0.580095"/>
    </g>
    <g clip-path="url(#pab5bf3305e)">
     <use href="#C1_0_0d1cea3f2e" x="539.502298" y="280.534838" style="fill: #008000; fill-opacity: 0.586292; stroke: #008000; stroke-opacity: 0.586292"/>
    </g>
    <g clip-path="url(#pab5bf3305e)">
     <use href="#C1_0_0d1cea3f2e" x="574.104093" y="259.50393" style="fill: #008000; fill-opacity: 0.601698; stroke: #008000; stroke-opacity: 0.601698"/>
    </g>
    <g clip-path="url(#pab5bf3305e)">
     <use href="#C1_0_0d1cea3f2e" x="790.524035" y="142.127658" style="fill: #008000; fill-opacity: 0.61035; stroke: #008000; stroke-opacity: 0.61035"/>
    </g>
    <g clip-path="url(#pab5bf3305e)">
     <use href="#C1_0_0d1cea3f2e" x="587.992428" y="248.155176" style="fill: #008000; fill-opacity: 0.625887; stroke: #008000; stroke-opacity: 0.625887"/>
    </g>
    <g clip-path="url(#pab5bf3305e)">
     <use href="#C1_0_0d1cea3f2e" x="502.440284" y="293.232744" style="fill: #008000; fill-opacity: 0.630653; stroke: #008000; stroke-opacity: 0.630653"/>
    </g>
    <g clip-path="url(#pab5bf3305e)">
     <use href="#C1_0_0d1cea3f2e" x="529.185249" y="278.868237" style="fill: #008000; fill-opacity: 0.630851; stroke: #008000; stroke-opacity: 0.630851"/>
    </g>
    <g clip-path="url(#pab5bf3305e)">
     <use href="#C1_0_0d1cea3f2e" x="780.36571" y="143.080001" style="fill: #008000; fill-opacity: 0.638164; stroke: #008000; stroke-opacity: 0.638164"/>
    </g>
    <g clip-path="url(#pab5bf3305e)">
     <use href="#C1_0_0d1cea3f2e" x="754.176278" y="154.428755" style="fill: #008000; fill-opacity: 0.654799; stroke: #008000; stroke-opacity: 0.654799"/>
    </g>
    <g clip-path="url(#pab5bf3305e)">
     <use href="#C1_0_0d1cea3f2e" x="750.049459" y="156.254079" style="fill: #008000; fill-opacity: 0.65719; stroke: #008000; stroke-opacity: 0.65719"/>
    </g>
    <g clip-path="url(#pab5bf3305e)">
     <use href="#C1_0_0d1cea3f2e" x="738.145172" y="160.380898" style="fill: #008000; fill-opacity: 0.67114; stroke: #008000; stroke-opacity: 0.67114"/>
    </g>
    <g clip-path="url(#pab5bf3305e)">
     <use href="#C1_0_0d1cea3f2e" x="756.239688" y="146.810011" style="fill: #008000; fill-opacity: 0.695131; stroke: #008000; stroke-opacity: 0.695131"/>
    </g>
    <g clip-path="url(#pab5bf3305e)">
     <use href="#C1_0_0d1cea3f2e" x="539.819746" y="261.805426" style="fill: #008000; fill-opacity: 0.701222; stroke: #008000; stroke-opacity: 0.701222"/>
    </g>
    <g clip-path="url(#pab5bf3305e)">
     <use href="#C1_0_0d1cea3f2e" x="749.890735" y="148.159163" style="fill: #008000; fill-opacity: 0.707846; stroke: #008000; stroke-opacity: 0.707846"/>
    </g>
    <g clip-path="url(#pab5bf3305e)">
     <use href="#C1_0_0d1cea3f2e" x="745.208382" y="149.825764" style="fill: #008000; fill-opacity: 0.713064; stroke: #008000; stroke-opacity: 0.713064"/>
    </g>
    <g clip-path="url(#pab5bf3305e)">
     <use href="#C1_0_0d1cea3f2e" x="530.931211" y="262.043511" style="fill: #008000; fill-opacity: 0.729245; stroke: #008000; stroke-opacity: 0.729245"/>
    </g>
    <g clip-path="url(#pab5bf3305e)">
     <use href="#C1_0_0d1cea3f2e" x="505.773484" y="273.074818" style="fill: #008000; fill-opacity: 0.744422; stroke: #008000; stroke-opacity: 0.744422"/>
    </g>
    <g clip-path="url(#pab5bf3305e)">
     <use href="#C1_0_0d1cea3f2e" x="607.594821" y="217.680201" style="fill: #008000; fill-opacity: 0.749553; stroke: #008000; stroke-opacity: 0.749553"/>
    </g>
    <g clip-path="url(#pab5bf3305e)">
     <use href="#C1_0_0d1cea3f2e" x="613.229517" y="214.029553" style="fill: #008000; fill-opacity: 0.753461; stroke: #008000; stroke-opacity: 0.753461"/>
    </g>
    <g clip-path="url(#pab5bf3305e)">
     <use href="#C1_0_0d1cea3f2e" x="601.960125" y="219.743611" style="fill: #008000; fill-opacity: 0.755475; stroke: #008000; stroke-opacity: 0.755475"/>
    </g>
    <g clip-path="url(#pab5bf3305e)">
     <use href="#C1_0_0d1cea3f2e" x="698.067404" y="158.873022" style="fill: #008000; fill-opacity: 0.81348; stroke: #008000; stroke-opacity: 0.81348"/>
    </g>
    <g clip-path="url(#pab5bf3305e)">
     <use href="#C1_0_0d1cea3f2e" x="693.067604" y="159.904727" style="fill: #008000; fill-opacity: 0.823684; stroke: #008000; stroke-opacity: 0.823684"/>
    </g>
    <g clip-path="url(#pab5bf3305e)">
     <use href="#C1_0_0d1cea3f2e" x="562.35853" y="226.33065" style="fill: #008000; fill-opacity: 0.846106; stroke: #008000; stroke-opacity: 0.846106"/>
    </g>
    <g clip-path="url(#pab5bf3305e)">
     <use href="#C1_0_0d1cea3f2e" x="681.71885" y="162.285584" style="fill: #008000; fill-opacity: 0.846602; stroke: #008000; stroke-opacity: 0.846602"/>
    </g>
    <g clip-path="url(#pab5bf3305e)">
     <use href="#C1_0_0d1cea3f2e" x="679.020545" y="162.603032" style="fill: #008000; fill-opacity: 0.853591; stroke: #008000; stroke-opacity: 0.853591"/>
    </g>
    <g clip-path="url(#pab5bf3305e)">
     <use href="#C1_0_0d1cea3f2e" x="643.466407" y="181.649891" style="fill: #008000; fill-opacity: 0.853631; stroke: #008000; stroke-opacity: 0.853631"/>
    </g>
    <g clip-path="url(#pab5bf3305e)">
     <use href="#C1_0_0d1cea3f2e" x="672.274782" y="165.301337" style="fill: #008000; fill-opacity: 0.859268; stroke: #008000; stroke-opacity: 0.859268"/>
    </g>
    <g clip-path="url(#pab5bf3305e)">
     <use href="#C1_0_0d1cea3f2e" x="651.799408" y="175.935834" style="fill: #008000; fill-opacity: 0.861362; stroke: #008000; stroke-opacity: 0.861362"/>
    </g>
    <g clip-path="url(#pab5bf3305e)">
     <use href="#C1_0_0d1cea3f2e" x="548.628919" y="231.013003" style="fill: #008000; fill-opacity: 0.862673; stroke: #008000; stroke-opacity: 0.862673"/>
    </g>
    <g clip-path="url(#pab5bf3305e)">
     <use href="#C1_0_0d1cea3f2e" x="674.020744" y="163.714099" style="fill: #008000; fill-opacity: 0.863303; stroke: #008000; stroke-opacity: 0.863303"/>
    </g>
    <g clip-path="url(#pab5bf3305e)">
     <use href="#C1_0_0d1cea3f2e" x="666.640086" y="166.25368" style="fill: #008000; fill-opacity: 0.872069; stroke: #008000; stroke-opacity: 0.872069"/>
    </g>
    <g clip-path="url(#pab5bf3305e)">
     <use href="#C1_0_0d1cea3f2e" x="639.180864" y="180.459463" style="fill: #008000; fill-opacity: 0.875225; stroke: #008000; stroke-opacity: 0.875225"/>
    </g>
    <g clip-path="url(#pab5bf3305e)">
     <use href="#C1_0_0d1cea3f2e" x="523.39183" y="239.107918" style="fill: #008000; fill-opacity: 0.896297; stroke: #008000; stroke-opacity: 0.896297"/>
    </g>
    <g clip-path="url(#pab5bf3305e)">
     <use href="#C1_0_0d1cea3f2e" x="642.672788" y="171.570928" style="fill: #008000; fill-opacity: 0.91868; stroke: #008000; stroke-opacity: 0.91868"/>
    </g>
    <g clip-path="url(#pab5bf3305e)">
     <use href="#C1_0_0d1cea3f2e" x="626.721043" y="177.84052" style="fill: #008000; fill-opacity: 0.932792; stroke: #008000; stroke-opacity: 0.932792"/>
    </g>
    <g clip-path="url(#pab5bf3305e)">
     <use href="#C1_0_0d1cea3f2e" x="597.357134" y="191.173321" style="fill: #008000; fill-opacity: 0.947675; stroke: #008000; stroke-opacity: 0.947675"/>
    </g>
    <g clip-path="url(#pab5bf3305e)">
     <use href="#C1_0_0d1cea3f2e" x="582.199009" y="197.522274" style="fill: #008000; fill-opacity: 0.958662; stroke: #008000; stroke-opacity: 0.958662"/>
    </g>
    <g clip-path="url(#pab5bf3305e)">
     <use href="#C1_0_0d1cea3f2e" x="602.753745" y="181.491168" style="fill: #008000; fill-opacity: 0.989723; stroke: #008000; stroke-opacity: 0.989723"/>
    </g>
    <g clip-path="url(#pab5bf3305e)">
     <use href="#C1_0_0d1cea3f2e" x="564.263216" y="200.458665" style="fill: #008000; stroke: #008000"/>
    </g>
   </g>
   <g id="text_45">
    <text x="638.029" y="16.874" font-size="13.38" text-anchor="middle">Reconstructed Graph</text>
   </g>
   <g id="legend_2">
    <g id="patch_11">
     <path d="M 696.664432 44.99625 
L 835.258182 44.99625 
Q 837.258182 44.99625 837.258182 42.99625 
L 837.258182 29.318125 
Q 837.258182 27.318125 835.258182 27.318125 
L 696.664432 27.318125 
Q 694.664432 27.318125 694.664432 29.318125 
L 694.664432 42.99625 
Q 694.664432 44.99625 696.664432 44.99625 
z
" style="fill: #ffffff; opacity: 0.8; stroke: #cccccc; stroke-linejoin: miter"/>
    </g>
    <g id="Path3DCollection_4">
     <defs>
      <path id="mcd2a6f8ed4" d="M 0 2.236068 
C 0.593012 2.236068 1.161816 2.000462 1.581139 1.581139 
C 2.000462 1.161816 2.236068 0.593012 2.236068 0 
C 2.236068 -0.593012 2.000462 -1.161816 1.581139 -1.581139 
C 1.161816 -2.000462 0.593012 -2.236068 0 -2.236068 
C -0.593012 -2.236068 -1.161816 -2.000462 -1.581139 -1.581139 
C -2.000462 -1.161816 -2.236068 -0.593012 -2.236068 0 
C -2.236068 0.593012 -2.000462 1.161816 -1.581139 1.581139 
C -1.161816 2.000462 -0.593012 2.236068 0 2.236068 
z
" style="stroke: #008000"/>
     </defs>
     <g>
      <use href="#mcd2a6f8ed4" x="708.664432" y="36.291563" style="fill: #008000; stroke: #008000"/>
     </g>
    </g>
    <g id="text_46">
     <text x="726.664" y="39.869" font-size="11.15" text-anchor="start">Reconstructed Nodes</text>
    </g>
   </g>
  </g>
 </g>
 <defs>
  <clipPath id="pc23e75e563">
   <rect x="7.2" y="22.318125" width="408.458182" height="408.458182"/>
  </clipPath>
  <clipPath id="pab5bf3305e">
   <rect x="433.8" y="22.318125" width="408.458182" height="408.458182"/>
  </clipPath>
 </defs>
</svg>

</body></html>
